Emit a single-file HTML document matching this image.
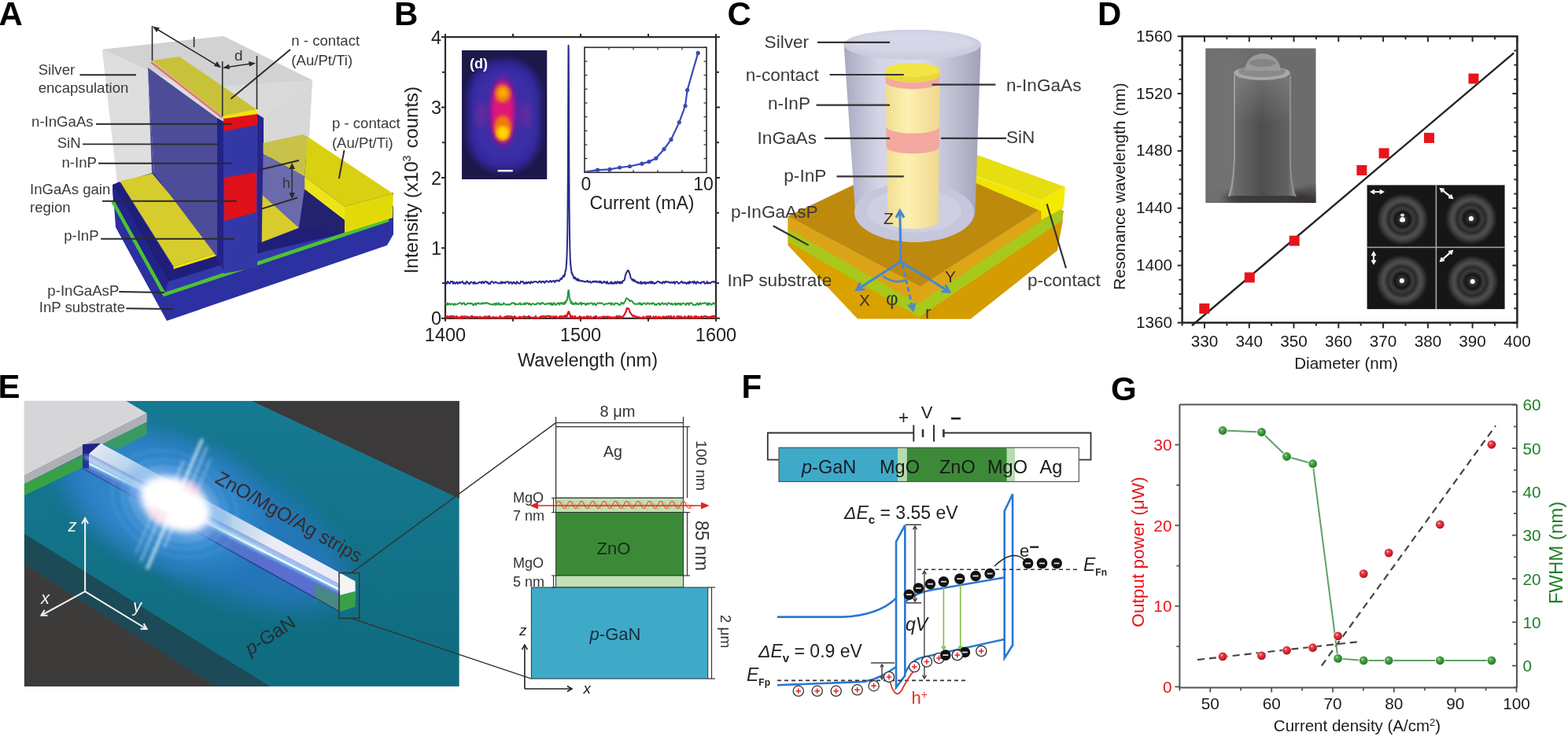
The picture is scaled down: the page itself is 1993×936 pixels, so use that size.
<!DOCTYPE html>
<html><head><meta charset="utf-8"><title>Figure</title>
<style>html,body{margin:0;padding:0;background:#fff;overflow:hidden;} svg{display:block;}</style>
</head><body>
<svg width="1993" height="936" viewBox="0 0 1993 936" font-family='"Liberation Sans", Arial, sans-serif'><defs>
<radialGradient id="gInsetB" cx="50%" cy="50%" r="55%">
  <stop offset="0" stop-color="#4a3aa8"/>
  <stop offset="0.6" stop-color="#33288a"/>
  <stop offset="1" stop-color="#1c1650"/>
</radialGradient>
<radialGradient id="spot" cx="50%" cy="50%" r="50%">
  <stop offset="0" stop-color="#ffe600"/>
  <stop offset="0.35" stop-color="#ffa000"/>
  <stop offset="0.65" stop-color="#e0107a"/>
  <stop offset="1" stop-color="#9a1aa0" stop-opacity="0"/>
</radialGradient>
<linearGradient id="cylG" x1="0" x2="1" y1="0" y2="0">
  <stop offset="0" stop-color="#a8a8c0"/>
  <stop offset="0.25" stop-color="#d4d4e6"/>
  <stop offset="0.55" stop-color="#dcdcec"/>
  <stop offset="0.85" stop-color="#b8b8cc"/>
  <stop offset="1" stop-color="#a0a0b8"/>
</linearGradient>
<linearGradient id="pilG" x1="0" x2="1" y1="0" y2="0">
  <stop offset="0" stop-color="#f0dc90"/>
  <stop offset="0.4" stop-color="#fdf0b0"/>
  <stop offset="1" stop-color="#efd890"/>
</linearGradient>
<linearGradient id="semPil" x1="0" x2="1" y1="0" y2="0">
  <stop offset="0" stop-color="#909090"/>
  <stop offset="0.1" stop-color="#6a6a6a"/>
  <stop offset="0.5" stop-color="#4e4e4e"/>
  <stop offset="0.9" stop-color="#626262"/>
  <stop offset="1" stop-color="#8e8e8e"/>
</linearGradient>
<radialGradient id="ring" cx="50%" cy="50%" r="50%">
  <stop offset="0" stop-color="#ffffff"/>
  <stop offset="0.1" stop-color="#3a3a3a"/>
  <stop offset="0.28" stop-color="#141414"/>
  <stop offset="0.42" stop-color="#404040"/>
  <stop offset="0.55" stop-color="#2a2a2a"/>
  <stop offset="0.72" stop-color="#555555"/>
  <stop offset="0.88" stop-color="#333333"/>
  <stop offset="1" stop-color="#161616"/>
</radialGradient>
<radialGradient id="glowE" cx="50%" cy="50%" r="50%">
  <stop offset="0" stop-color="#ffffff"/>
  <stop offset="0.25" stop-color="#ffffff"/>
  <stop offset="0.5" stop-color="#c8d8ff" stop-opacity="0.8"/>
  <stop offset="1" stop-color="#3a8ad8" stop-opacity="0"/>
</radialGradient>
<radialGradient id="haloE" cx="50%" cy="50%" r="50%">
  <stop offset="0" stop-color="#4aa8f0" stop-opacity="0.9"/>
  <stop offset="1" stop-color="#1a8ab0" stop-opacity="0"/>
</radialGradient>
<radialGradient id="ballG" cx="38%" cy="35%" r="62%">
  <stop offset="0" stop-color="#d8f4d0"/>
  <stop offset="0.22" stop-color="#58b050"/>
  <stop offset="1" stop-color="#247a28"/>
</radialGradient>
<radialGradient id="ballR" cx="38%" cy="35%" r="62%">
  <stop offset="0" stop-color="#ffe0e0"/>
  <stop offset="0.25" stop-color="#f04050"/>
  <stop offset="1" stop-color="#b01820"/>
</radialGradient>
<linearGradient id="tealG" x1="0" x2="0" y1="0" y2="1">
  <stop offset="0" stop-color="#167a92"/>
  <stop offset="1" stop-color="#0f6b7e"/>
</linearGradient>
<filter id="blur2"><feGaussianBlur stdDeviation="2"/></filter>
<filter id="blur4"><feGaussianBlur stdDeviation="4"/></filter>
<filter id="blur8"><feGaussianBlur stdDeviation="8"/></filter>
<filter id="blur15"><feGaussianBlur stdDeviation="15"/></filter>
</defs>
<rect x="0" y="0" width="1993" height="936" fill="#fff"/>
<text x="-1.5" y="31.5" font-size="42" fill="#000" text-anchor="start" font-weight="bold" >A</text>
<polygon points="130.0,63.0 284.0,46.0 397.0,102.0 393.0,172.0 393.0,200.0 300.0,240.0 150.0,240.0" fill="#dadada" />
<polygon points="130.0,63.0 284.0,46.0 397.0,102.0 300.0,108.0 240.0,112.0" fill="#d2d2d2" />
<polygon points="130.0,63.0 240.0,112.0 250.0,240.0 150.0,240.0" fill="#dedede" />
<polygon points="143.0,235.0 147.0,289.0 212.0,408.0 492.0,312.0 500.0,298.0 500.0,262.0 390.0,200.0 330.0,200.0 200.0,218.0" fill="#2c30a0" />
<polygon points="143.0,235.0 144.0,256.0 209.0,374.0 494.0,280.0 500.0,245.0 440.0,262.0 336.0,300.0 220.0,345.0" fill="#3238aa" />
<polygon points="143.0,235.0 152.0,231.0 221.0,342.0 278.0,322.0 333.0,305.0 380.0,290.0 440.0,264.0 440.0,296.0 336.0,320.0 214.0,358.0" fill="#1f1f7a" />
<polygon points="143.0,235.0 214.0,358.0 209.0,374.0 144.0,256.0" fill="#23238a" />
<path d="M143.5,256.5 L209,374.5 L494,279.5" fill="none" stroke="#4cc234" stroke-width="4.6" />
<polygon points="152.3,230.6 193.5,220.7 278.0,321.0 220.5,338.7" fill="#d6cc2c" />
<polygon points="220.5,338.7 278.0,321.0 278.0,324.6 220.5,342.2" fill="#eee40a" />
<polygon points="188.0,86.0 276.0,150.0 276.0,327.0 196.0,221.0" fill="#4c4c98" />
<polygon points="188.0,86.0 196.0,221.0 193.0,221.0" fill="#4c4c98" />
<polygon points="276.0,150.0 285.0,155.0 285.0,345.0 276.0,330.0" fill="#22228a" />
<polygon points="284.0,150.0 327.0,145.0 327.0,340.0 284.0,348.0" fill="#3438a6" />
<polygon points="284.0,149.0 327.0,145.0 327.0,159.0 284.0,167.0" fill="#e01018" />
<polygon points="285.0,226.0 326.0,219.0 326.0,270.0 285.0,281.0" fill="#e01018" />
<polygon points="327.0,145.0 335.0,150.0 335.0,305.0 327.0,310.0" fill="#26268c" />
<polygon points="335.0,150.0 397.0,102.0 393.0,172.0 335.0,182.0" fill="#d8d8d8" />
<polygon points="334.5,181.8 385.0,171.0 391.0,174.0 387.2,224.5 334.5,195.4" fill="#c8c24a" />
<polygon points="334.5,195.4 387.2,224.5 387.2,240.8 380.0,289.8 333.6,248.0" fill="#6a6aac" />
<polygon points="391.0,174.0 499.8,246.3 438.0,262.6 387.2,224.5" fill="#d8d010" />
<polygon points="387.2,224.5 438.0,262.6 438.0,280.0 387.2,240.8" fill="#ece418" />
<polygon points="387.2,240.8 438.0,280.0 438.0,296.0 380.0,289.8" fill="#22226e" />
<polygon points="438.0,262.6 499.8,246.3 499.0,277.0 438.0,296.0" fill="#e2da08" />
<polygon points="333.6,248.0 380.0,289.8 332.7,308.0" fill="#d8cc2c" />
<polygon points="193.0,77.0 228.0,72.0 326.0,139.0 283.0,148.0" fill="#c8c23a" />
<path d="M192,79 L283,150" fill="none" stroke="#e87078" stroke-width="2.5" />
<polygon points="283.0,148.0 326.0,139.0 327.0,145.0 284.0,151.0" fill="#f0e800" />
<line x1="193.5" y1="33.0" x2="193.5" y2="77.0" stroke="#2a2a2a" stroke-width="1.6" />
<line x1="282.7" y1="78.0" x2="282.7" y2="148.0" stroke="#2a2a2a" stroke-width="1.6" />
<line x1="326.5" y1="71.0" x2="326.5" y2="139.0" stroke="#2a2a2a" stroke-width="1.6" />
<line x1="196.0" y1="35.0" x2="279.0" y2="85.0" stroke="#2a2a2a" stroke-width="1.6" />
<polygon points="194.0,33.5 203.0,35.5 199.0,41.0" fill="#2a2a2a" />
<polygon points="281.0,86.0 272.0,84.0 276.0,78.0" fill="#2a2a2a" />
<line x1="285.0" y1="86.0" x2="322.0" y2="80.5" stroke="#2a2a2a" stroke-width="1.6" />
<polygon points="283.0,86.5 291.0,81.5 292.0,88.0" fill="#2a2a2a" />
<polygon points="325.0,80.5 316.0,78.0 317.0,84.5" fill="#2a2a2a" />
<text x="244.5" y="59.5" font-size="19" fill="#333" text-anchor="start" font-weight="normal" >l</text>
<text x="298.0" y="76.5" font-size="19" fill="#333" text-anchor="start" font-weight="normal" >d</text>
<line x1="369.0" y1="63.0" x2="293.4" y2="125.8" stroke="#2a2a2a" stroke-width="1.9" />
<line x1="330.0" y1="216.0" x2="380.0" y2="204.0" stroke="#2a2a2a" stroke-width="1.9" />
<line x1="331.7" y1="265.8" x2="378.2" y2="251.4" stroke="#2a2a2a" stroke-width="1.9" />
<line x1="371.2" y1="212.0" x2="371.2" y2="249.0" stroke="#2a2a2a" stroke-width="1.4" />
<polygon points="371.2,207.0 367.5,215.0 375.0,215.0" fill="#2a2a2a" />
<polygon points="371.2,253.0 367.5,245.0 375.0,245.0" fill="#2a2a2a" />
<text x="359.0" y="239.0" font-size="18" fill="#333" text-anchor="start" font-weight="normal" >h</text>
<text x="48.7" y="95.2" font-size="18.6" fill="#3a3a3a" text-anchor="start" font-weight="normal" >Silver</text>
<text x="48.7" y="117.6" font-size="18.6" fill="#3a3a3a" text-anchor="start" font-weight="normal" >encapsulation</text>
<line x1="101.5" y1="95.2" x2="173.0" y2="95.2" stroke="#2a2a2a" stroke-width="1.9" />
<text x="370.3" y="58.0" font-size="18.6" fill="#3a3a3a" text-anchor="start" font-weight="normal" >n - contact</text>
<text x="370.3" y="83.0" font-size="18.6" fill="#3a3a3a" text-anchor="start" font-weight="normal" >(Au/Pt/Ti)</text>
<text x="421.9" y="163.0" font-size="18.6" fill="#3a3a3a" text-anchor="start" font-weight="normal" >p - contact</text>
<text x="421.9" y="188.0" font-size="18.6" fill="#3a3a3a" text-anchor="start" font-weight="normal" >(Au/Pt/Ti)</text>
<line x1="437.5" y1="191.0" x2="430.9" y2="227.0" stroke="#2a2a2a" stroke-width="1.9" />
<text x="118.6" y="161.4" font-size="18.6" fill="#3a3a3a" text-anchor="end" font-weight="normal" >n-InGaAs</text>
<line x1="122.0" y1="157.8" x2="294.4" y2="157.8" stroke="#2a2a2a" stroke-width="1.9" />
<text x="102.6" y="188.0" font-size="18.6" fill="#3a3a3a" text-anchor="end" font-weight="normal" >SiN</text>
<line x1="105.0" y1="183.4" x2="277.4" y2="183.4" stroke="#2a2a2a" stroke-width="1.9" />
<text x="122.9" y="212.7" font-size="18.6" fill="#3a3a3a" text-anchor="end" font-weight="normal" >n-InP</text>
<line x1="125.0" y1="207.8" x2="295.5" y2="207.8" stroke="#2a2a2a" stroke-width="1.9" />
<text x="38.0" y="247.0" font-size="18.6" fill="#3a3a3a" text-anchor="start" font-weight="normal" >InGaAs gain</text>
<text x="38.0" y="270.0" font-size="18.6" fill="#3a3a3a" text-anchor="start" font-weight="normal" >region</text>
<line x1="130.0" y1="255.8" x2="300.7" y2="255.8" stroke="#2a2a2a" stroke-width="1.9" />
<text x="125.6" y="306.0" font-size="18.6" fill="#3a3a3a" text-anchor="end" font-weight="normal" >p-InP</text>
<line x1="128.2" y1="303.8" x2="298.0" y2="303.8" stroke="#2a2a2a" stroke-width="1.9" />
<text x="151.3" y="376.0" font-size="18.6" fill="#3a3a3a" text-anchor="end" font-weight="normal" >p-InGaAsP</text>
<line x1="151.3" y1="371.0" x2="209.0" y2="372.0" stroke="#2a2a2a" stroke-width="1.9" />
<text x="159.0" y="397.4" font-size="18.6" fill="#3a3a3a" text-anchor="end" font-weight="normal" >InP substrate</text>
<line x1="160.3" y1="392.3" x2="220.5" y2="393.0" stroke="#2a2a2a" stroke-width="1.9" />
<text x="501.0" y="31.5" font-size="42" fill="#000" text-anchor="start" font-weight="bold" >B</text>
<rect x="566" y="47.1" width="344" height="357.7" fill="none" stroke="#2a2a2a" stroke-width="2.2"/>
<line x1="561.0" y1="404.8" x2="566.0" y2="404.8" stroke="#2a2a2a" stroke-width="2" />
<line x1="910.0" y1="404.8" x2="915.0" y2="404.8" stroke="#2a2a2a" stroke-width="2" />
<line x1="562.0" y1="360.1" x2="566.0" y2="360.1" stroke="#2a2a2a" stroke-width="2" />
<line x1="910.0" y1="360.1" x2="914.0" y2="360.1" stroke="#2a2a2a" stroke-width="2" />
<line x1="561.0" y1="315.4" x2="566.0" y2="315.4" stroke="#2a2a2a" stroke-width="2" />
<line x1="910.0" y1="315.4" x2="915.0" y2="315.4" stroke="#2a2a2a" stroke-width="2" />
<line x1="562.0" y1="270.7" x2="566.0" y2="270.7" stroke="#2a2a2a" stroke-width="2" />
<line x1="910.0" y1="270.7" x2="914.0" y2="270.7" stroke="#2a2a2a" stroke-width="2" />
<line x1="561.0" y1="226.0" x2="566.0" y2="226.0" stroke="#2a2a2a" stroke-width="2" />
<line x1="910.0" y1="226.0" x2="915.0" y2="226.0" stroke="#2a2a2a" stroke-width="2" />
<line x1="562.0" y1="181.2" x2="566.0" y2="181.2" stroke="#2a2a2a" stroke-width="2" />
<line x1="910.0" y1="181.2" x2="914.0" y2="181.2" stroke="#2a2a2a" stroke-width="2" />
<line x1="561.0" y1="136.5" x2="566.0" y2="136.5" stroke="#2a2a2a" stroke-width="2" />
<line x1="910.0" y1="136.5" x2="915.0" y2="136.5" stroke="#2a2a2a" stroke-width="2" />
<line x1="562.0" y1="91.8" x2="566.0" y2="91.8" stroke="#2a2a2a" stroke-width="2" />
<line x1="910.0" y1="91.8" x2="914.0" y2="91.8" stroke="#2a2a2a" stroke-width="2" />
<line x1="561.0" y1="47.1" x2="566.0" y2="47.1" stroke="#2a2a2a" stroke-width="2" />
<line x1="910.0" y1="47.1" x2="915.0" y2="47.1" stroke="#2a2a2a" stroke-width="2" />
<line x1="566.0" y1="404.8" x2="566.0" y2="408.8" stroke="#2a2a2a" stroke-width="2" />
<line x1="566.0" y1="43.1" x2="566.0" y2="47.1" stroke="#2a2a2a" stroke-width="2" />
<line x1="652.0" y1="404.8" x2="652.0" y2="408.8" stroke="#2a2a2a" stroke-width="2" />
<line x1="652.0" y1="43.1" x2="652.0" y2="47.1" stroke="#2a2a2a" stroke-width="2" />
<line x1="738.0" y1="404.8" x2="738.0" y2="408.8" stroke="#2a2a2a" stroke-width="2" />
<line x1="738.0" y1="43.1" x2="738.0" y2="47.1" stroke="#2a2a2a" stroke-width="2" />
<line x1="824.0" y1="404.8" x2="824.0" y2="408.8" stroke="#2a2a2a" stroke-width="2" />
<line x1="824.0" y1="43.1" x2="824.0" y2="47.1" stroke="#2a2a2a" stroke-width="2" />
<line x1="910.0" y1="404.8" x2="910.0" y2="408.8" stroke="#2a2a2a" stroke-width="2" />
<line x1="910.0" y1="43.1" x2="910.0" y2="47.1" stroke="#2a2a2a" stroke-width="2" />
<text x="561.0" y="413.3" font-size="23.5" fill="#222" text-anchor="end" font-weight="normal" >0</text>
<text x="561.0" y="323.9" font-size="23.5" fill="#222" text-anchor="end" font-weight="normal" >1</text>
<text x="561.0" y="234.5" font-size="23.5" fill="#222" text-anchor="end" font-weight="normal" >2</text>
<text x="561.0" y="145.0" font-size="23.5" fill="#222" text-anchor="end" font-weight="normal" >3</text>
<text x="561.0" y="55.6" font-size="23.5" fill="#222" text-anchor="end" font-weight="normal" >4</text>
<text x="566.0" y="434.0" font-size="23.5" fill="#222" text-anchor="middle" font-weight="normal" >1400</text>
<text x="738.0" y="434.0" font-size="23.5" fill="#222" text-anchor="middle" font-weight="normal" >1500</text>
<text x="910.0" y="434.0" font-size="23.5" fill="#222" text-anchor="middle" font-weight="normal" >1600</text>
<text x="747.0" y="466.0" font-size="23.5" fill="#222" text-anchor="middle" font-weight="normal" >Wavelength (nm)</text>
<text x="0" y="0" font-size="24" fill="#222" text-anchor="middle" transform="translate(531,229) rotate(-90)">Intensity (x10<tspan font-size="14" dy="-9">3</tspan><tspan dy="9" dx="9">counts)</tspan></text>
<path d="M566.00,402.94 L567.00,402.38 L568.00,403.98 L569.00,402.13 L570.00,403.61 L571.00,403.07 L572.00,402.08 L573.00,403.52 L574.00,402.02 L575.00,403.29 L576.00,402.12 L577.00,402.19 L578.00,403.26 L579.00,404.54 L580.00,402.29 L581.00,402.61 L582.00,403.91 L583.00,404.93 L584.00,403.75 L585.00,403.17 L586.00,405.02 L587.00,402.05 L588.00,404.65 L589.00,402.83 L590.00,402.36 L591.00,402.28 L592.00,402.89 L593.00,404.51 L594.00,402.48 L595.00,403.76 L596.00,403.94 L597.00,403.09 L598.00,403.65 L599.00,402.10 L600.00,402.09 L601.00,402.56 L602.00,404.08 L603.00,403.27 L604.00,402.90 L605.00,403.77 L606.00,403.35 L607.00,402.86 L608.00,404.44 L609.00,404.13 L610.00,402.68 L611.00,403.74 L612.00,403.58 L613.00,404.70 L614.00,404.23 L615.00,402.82 L616.00,405.03 L617.00,402.28 L618.00,403.24 L619.00,404.32 L620.00,402.38 L621.00,403.46 L622.00,402.02 L623.00,404.04 L624.00,404.34 L625.00,403.73 L626.00,404.70 L627.00,402.90 L628.00,404.12 L629.00,403.80 L630.00,403.75 L631.00,403.36 L632.00,404.58 L633.00,404.92 L634.00,403.41 L635.00,404.02 L636.00,402.09 L637.00,404.14 L638.00,403.97 L639.00,405.07 L640.00,404.53 L641.00,402.81 L642.00,403.13 L643.00,404.04 L644.00,401.97 L645.00,403.37 L646.00,402.43 L647.00,402.27 L648.00,402.08 L649.00,404.35 L650.00,402.31 L651.00,402.69 L652.00,403.15 L653.00,404.68 L654.00,402.15 L655.00,403.33 L656.00,403.65 L657.00,404.72 L658.00,404.52 L659.00,404.66 L660.00,402.78 L661.00,403.22 L662.00,403.04 L663.00,404.72 L664.00,404.96 L665.00,402.38 L666.00,402.46 L667.00,402.63 L668.00,402.64 L669.00,403.44 L670.00,403.78 L671.00,402.73 L672.00,401.90 L673.00,403.23 L674.00,403.07 L675.00,403.70 L676.00,404.94 L677.00,404.10 L678.00,403.54 L679.00,403.86 L680.00,404.05 L681.00,402.06 L682.00,404.76 L683.00,404.38 L684.00,404.68 L685.00,404.44 L686.00,403.14 L687.00,403.16 L688.00,402.21 L689.00,403.91 L690.00,402.08 L691.00,402.09 L692.00,402.54 L693.00,402.39 L694.00,402.96 L695.00,402.04 L696.00,401.87 L697.00,402.35 L698.00,402.19 L699.00,403.02 L700.00,401.94 L701.00,404.65 L702.00,403.81 L703.00,402.32 L704.00,402.64 L705.00,402.94 L706.00,402.99 L707.00,402.21 L708.00,404.52 L709.00,404.97 L710.00,403.27 L711.00,403.31 L712.00,402.01 L713.00,402.04 L714.00,402.78 L715.00,402.48 L716.00,404.22 L717.00,402.00 L717.25,401.53 L717.50,404.46 L717.75,403.07 L718.00,401.80 L718.25,403.02 L718.50,401.31 L718.75,402.85 L719.00,404.21 L719.25,403.74 L719.50,403.09 L719.75,401.55 L720.00,401.71 L720.25,400.85 L720.50,402.49 L720.75,401.36 L721.00,401.67 L721.25,399.61 L721.50,398.46 L721.75,399.33 L722.00,398.73 L722.25,397.20 L722.50,396.39 L722.75,396.50 L723.00,397.04 L723.25,396.54 L723.50,398.61 L723.75,399.06 L724.00,398.78 L724.25,399.37 L724.50,400.63 L724.75,400.92 L725.00,402.58 L725.25,403.64 L725.50,402.18 L725.75,403.88 L726.00,404.16 L726.25,404.15 L726.50,402.34 L726.75,401.94 L727.00,402.02 L727.25,401.97 L727.50,402.04 L727.75,403.42 L728.00,404.34 L728.25,404.18 L728.50,403.05 L728.75,403.63 L729.75,404.17 L730.75,401.93 L731.75,403.81 L732.75,404.64 L733.75,404.25 L734.75,404.17 L735.75,403.32 L736.75,402.37 L737.75,404.33 L738.75,402.88 L739.75,404.39 L740.75,404.94 L741.75,403.11 L742.75,403.13 L743.75,404.88 L744.75,404.17 L745.75,402.40 L746.75,402.27 L747.75,402.35 L748.75,404.76 L749.75,404.45 L750.75,402.34 L751.75,404.52 L752.75,405.01 L753.75,403.98 L754.75,403.00 L755.75,403.63 L756.75,402.30 L757.75,401.93 L758.75,404.99 L759.75,403.96 L760.75,403.57 L761.75,404.87 L762.75,403.27 L763.75,404.67 L764.75,404.53 L765.75,402.56 L766.75,402.69 L767.75,402.83 L768.75,402.66 L769.75,403.77 L770.75,402.72 L771.75,403.23 L772.75,402.31 L773.75,404.80 L774.75,403.02 L775.75,403.36 L776.75,403.76 L777.75,404.79 L778.75,403.24 L779.75,404.83 L780.75,403.50 L781.75,403.59 L782.75,403.57 L783.75,401.95 L784.75,403.30 L785.75,402.48 L786.75,401.90 L787.75,404.43 L788.75,402.39 L789.75,403.27 L790.75,403.87 L791.75,402.85 L792.75,401.14 L793.75,400.10 L794.75,397.93 L795.75,396.14 L796.75,391.96 L797.75,392.60 L798.75,392.22 L799.75,393.94 L800.75,397.47 L801.75,398.32 L802.75,399.73 L803.75,401.22 L804.75,402.34 L805.75,401.37 L806.75,402.38 L807.75,402.45 L808.75,402.80 L809.75,403.64 L810.75,403.05 L811.75,403.43 L812.75,403.33 L813.75,404.86 L814.75,404.11 L815.75,404.69 L816.75,404.91 L817.75,402.73 L818.75,403.69 L819.75,404.92 L820.75,404.59 L821.75,402.34 L822.75,402.29 L823.75,403.31 L824.75,402.13 L825.75,402.67 L826.75,402.13 L827.75,404.04 L828.75,404.41 L829.75,404.77 L830.75,402.39 L831.75,404.19 L832.75,404.01 L833.75,402.36 L834.75,404.72 L835.75,404.99 L836.75,402.60 L837.75,404.95 L838.75,403.17 L839.75,403.46 L840.75,405.07 L841.75,404.56 L842.75,402.41 L843.75,403.28 L844.75,403.55 L845.75,402.98 L846.75,402.52 L847.75,402.92 L848.75,404.21 L849.75,401.96 L850.75,403.67 L851.75,403.31 L852.75,401.96 L853.75,402.96 L854.75,403.90 L855.75,403.54 L856.75,402.10 L857.75,405.05 L858.75,404.42 L859.75,405.01 L860.75,402.23 L861.75,402.75 L862.75,402.03 L863.75,404.39 L864.75,402.76 L865.75,402.31 L866.75,403.25 L867.75,404.82 L868.75,404.52 L869.75,402.73 L870.75,402.38 L871.75,404.84 L872.75,403.72 L873.75,404.14 L874.75,402.19 L875.75,402.08 L876.75,404.10 L877.75,403.26 L878.75,402.13 L879.75,404.90 L880.75,403.93 L881.75,404.46 L882.75,402.17 L883.75,404.64 L884.75,402.11 L885.75,404.66 L886.75,403.35 L887.75,402.98 L888.75,403.67 L889.75,404.86 L890.75,402.76 L891.75,402.31 L892.75,403.59 L893.75,402.66 L894.75,402.25 L895.75,402.42 L896.75,402.06 L897.75,402.54 L898.75,402.90 L899.75,402.88 L900.75,404.33 L901.75,402.83 L902.75,403.50 L903.75,402.47 L904.75,403.01 L905.75,401.96 L906.75,402.70 L907.75,401.95 L908.75,404.25 L909.75,403.66" fill="none" stroke="#e0141c" stroke-width="2.2" stroke-linejoin="round"/>
<path d="M566.00,385.57 L567.00,386.42 L568.00,387.80 L569.00,385.32 L570.00,387.45 L571.00,386.29 L572.00,386.48 L573.00,387.50 L574.00,386.18 L575.00,386.52 L576.00,387.06 L577.00,387.94 L578.00,386.03 L579.00,387.49 L580.00,387.12 L581.00,386.91 L582.00,386.21 L583.00,386.04 L584.00,385.16 L585.00,385.39 L586.00,385.21 L587.00,387.22 L588.00,385.76 L589.00,385.49 L590.00,385.25 L591.00,387.52 L592.00,387.61 L593.00,387.01 L594.00,385.84 L595.00,385.72 L596.00,385.88 L597.00,386.37 L598.00,385.47 L599.00,386.33 L600.00,385.79 L601.00,387.88 L602.00,387.91 L603.00,386.64 L604.00,385.73 L605.00,387.89 L606.00,385.92 L607.00,386.07 L608.00,385.00 L609.00,386.14 L610.00,386.42 L611.00,386.50 L612.00,385.60 L613.00,386.51 L614.00,385.01 L615.00,385.79 L616.00,385.26 L617.00,386.19 L618.00,385.12 L619.00,385.06 L620.00,385.91 L621.00,385.69 L622.00,386.75 L623.00,386.58 L624.00,387.25 L625.00,386.97 L626.00,387.14 L627.00,387.63 L628.00,386.16 L629.00,385.97 L630.00,387.95 L631.00,385.44 L632.00,387.17 L633.00,386.92 L634.00,385.12 L635.00,387.50 L636.00,387.67 L637.00,386.87 L638.00,387.19 L639.00,387.43 L640.00,385.41 L641.00,386.56 L642.00,386.50 L643.00,387.50 L644.00,387.40 L645.00,387.47 L646.00,386.74 L647.00,387.67 L648.00,387.04 L649.00,387.07 L650.00,385.68 L651.00,385.08 L652.00,385.39 L653.00,386.07 L654.00,385.30 L655.00,387.49 L656.00,386.66 L657.00,386.87 L658.00,386.87 L659.00,387.03 L660.00,386.45 L661.00,384.99 L662.00,387.38 L663.00,387.23 L664.00,386.49 L665.00,386.59 L666.00,386.96 L667.00,385.18 L668.00,387.19 L669.00,385.74 L670.00,385.20 L671.00,385.78 L672.00,387.17 L673.00,385.59 L674.00,387.20 L675.00,387.90 L676.00,386.46 L677.00,386.12 L678.00,386.41 L679.00,387.02 L680.00,387.27 L681.00,386.82 L682.00,386.89 L683.00,385.20 L684.00,385.41 L685.00,385.72 L686.00,387.19 L687.00,385.87 L688.00,386.66 L689.00,384.99 L690.00,385.13 L691.00,385.75 L692.00,386.96 L693.00,387.01 L694.00,386.96 L695.00,385.80 L696.00,386.47 L697.00,386.31 L698.00,386.31 L699.00,385.26 L700.00,387.58 L701.00,385.49 L702.00,387.81 L703.00,387.68 L704.00,384.91 L705.00,386.22 L706.00,387.29 L707.00,387.71 L708.00,386.13 L709.00,385.56 L710.00,385.35 L711.00,387.52 L712.00,385.27 L713.00,386.32 L714.00,384.93 L715.00,385.97 L716.00,387.12 L717.00,384.46 L717.25,386.45 L717.50,385.44 L717.75,386.49 L718.00,385.84 L718.25,384.31 L718.50,386.18 L718.75,384.79 L719.00,383.22 L719.25,382.94 L719.50,384.13 L719.75,383.69 L720.00,382.84 L720.25,381.85 L720.50,381.81 L720.75,380.90 L721.00,381.39 L721.25,377.47 L721.50,377.90 L721.75,375.89 L722.00,371.13 L722.25,371.07 L722.50,368.93 L722.75,369.67 L723.00,369.61 L723.25,372.42 L723.50,375.04 L723.75,379.04 L724.00,379.54 L724.25,380.19 L724.50,381.42 L724.75,381.75 L725.00,381.68 L725.25,382.32 L725.50,384.91 L725.75,383.57 L726.00,385.78 L726.25,383.93 L726.50,384.16 L726.75,385.04 L727.00,384.21 L727.25,384.87 L727.50,386.71 L727.75,386.58 L728.00,386.44 L728.25,385.96 L728.50,386.87 L728.75,387.00 L729.75,385.99 L730.75,386.62 L731.75,384.70 L732.75,386.81 L733.75,386.02 L734.75,386.97 L735.75,386.68 L736.75,385.63 L737.75,384.94 L738.75,387.60 L739.75,385.22 L740.75,386.27 L741.75,385.89 L742.75,385.77 L743.75,387.10 L744.75,387.82 L745.75,385.68 L746.75,386.88 L747.75,385.82 L748.75,386.59 L749.75,386.11 L750.75,385.43 L751.75,385.42 L752.75,385.56 L753.75,387.66 L754.75,386.44 L755.75,385.61 L756.75,387.67 L757.75,387.94 L758.75,386.31 L759.75,385.38 L760.75,385.54 L761.75,385.24 L762.75,385.99 L763.75,385.24 L764.75,385.69 L765.75,385.75 L766.75,386.68 L767.75,387.63 L768.75,387.22 L769.75,386.21 L770.75,386.22 L771.75,386.55 L772.75,386.11 L773.75,385.99 L774.75,385.17 L775.75,385.81 L776.75,387.88 L777.75,385.36 L778.75,386.49 L779.75,386.87 L780.75,387.57 L781.75,385.63 L782.75,385.80 L783.75,385.73 L784.75,386.18 L785.75,386.32 L786.75,387.84 L787.75,387.52 L788.75,387.57 L789.75,384.96 L790.75,384.85 L791.75,386.56 L792.75,386.47 L793.75,384.11 L794.75,382.92 L795.75,379.48 L796.75,379.31 L797.75,380.38 L798.75,380.48 L799.75,381.66 L800.75,383.31 L801.75,382.27 L802.75,382.68 L803.75,383.38 L804.75,384.91 L805.75,385.74 L806.75,386.83 L807.75,386.45 L808.75,386.45 L809.75,386.97 L810.75,386.17 L811.75,386.53 L812.75,385.05 L813.75,387.31 L814.75,385.67 L815.75,387.75 L816.75,386.93 L817.75,385.90 L818.75,385.38 L819.75,385.75 L820.75,386.90 L821.75,387.09 L822.75,385.33 L823.75,385.21 L824.75,386.57 L825.75,386.74 L826.75,386.16 L827.75,385.67 L828.75,386.80 L829.75,385.03 L830.75,385.90 L831.75,386.38 L832.75,387.87 L833.75,386.93 L834.75,387.65 L835.75,386.42 L836.75,385.70 L837.75,385.74 L838.75,387.88 L839.75,387.11 L840.75,385.92 L841.75,385.06 L842.75,386.49 L843.75,387.02 L844.75,386.26 L845.75,385.77 L846.75,387.00 L847.75,387.77 L848.75,385.68 L849.75,385.10 L850.75,386.01 L851.75,386.26 L852.75,387.04 L853.75,385.59 L854.75,387.39 L855.75,387.21 L856.75,386.51 L857.75,385.61 L858.75,387.91 L859.75,385.93 L860.75,387.46 L861.75,385.69 L862.75,385.66 L863.75,387.28 L864.75,385.88 L865.75,387.85 L866.75,386.48 L867.75,385.56 L868.75,385.67 L869.75,386.25 L870.75,386.99 L871.75,387.84 L872.75,385.44 L873.75,386.18 L874.75,385.64 L875.75,387.92 L876.75,385.42 L877.75,385.15 L878.75,385.18 L879.75,386.18 L880.75,387.69 L881.75,387.65 L882.75,387.20 L883.75,387.99 L884.75,387.79 L885.75,385.99 L886.75,385.55 L887.75,387.81 L888.75,387.24 L889.75,385.09 L890.75,386.99 L891.75,386.13 L892.75,386.12 L893.75,385.99 L894.75,385.51 L895.75,385.01 L896.75,385.84 L897.75,386.05 L898.75,387.86 L899.75,385.37 L900.75,387.89 L901.75,385.62 L902.75,386.07 L903.75,387.46 L904.75,387.46 L905.75,386.30 L906.75,385.15 L907.75,386.42 L908.75,386.12 L909.75,387.76" fill="none" stroke="#2a9a40" stroke-width="2.0" stroke-linejoin="round"/>
<path d="M566.00,358.49 L567.00,359.04 L568.00,360.74 L569.00,357.97 L570.00,359.18 L571.00,360.47 L572.00,360.32 L573.00,358.00 L574.00,357.98 L575.00,358.07 L576.00,360.81 L577.00,358.69 L578.00,360.26 L579.00,360.74 L580.00,358.95 L581.00,358.73 L582.00,360.93 L583.00,359.84 L584.00,358.70 L585.00,360.15 L586.00,358.87 L587.00,358.74 L588.00,357.87 L589.00,360.28 L590.00,360.79 L591.00,359.89 L592.00,360.88 L593.00,357.93 L594.00,358.60 L595.00,359.38 L596.00,360.92 L597.00,360.91 L598.00,359.09 L599.00,358.66 L600.00,359.23 L601.00,359.43 L602.00,360.82 L603.00,358.43 L604.00,360.42 L605.00,360.21 L606.00,360.48 L607.00,360.32 L608.00,359.79 L609.00,358.89 L610.00,358.86 L611.00,359.00 L612.00,360.34 L613.00,358.09 L614.00,358.47 L615.00,360.25 L616.00,358.63 L617.00,358.04 L618.00,357.94 L619.00,359.60 L620.00,358.87 L621.00,360.97 L622.00,360.65 L623.00,360.99 L624.00,358.67 L625.00,358.09 L626.00,358.13 L627.00,359.41 L628.00,360.09 L629.00,359.25 L630.00,358.56 L631.00,359.15 L632.00,359.80 L633.00,359.97 L634.00,360.20 L635.00,360.51 L636.00,359.93 L637.00,358.19 L638.00,360.49 L639.00,358.74 L640.00,359.61 L641.00,358.98 L642.00,360.15 L643.00,358.42 L644.00,358.57 L645.00,358.56 L646.00,358.27 L647.00,360.60 L648.00,359.62 L649.00,358.81 L650.00,359.03 L651.00,360.93 L652.00,359.38 L653.00,358.49 L654.00,360.33 L655.00,359.83 L656.00,360.91 L657.00,358.06 L658.00,359.25 L659.00,360.34 L660.00,360.40 L661.00,360.63 L662.00,357.83 L663.00,358.64 L664.00,358.07 L665.00,358.29 L666.00,360.79 L667.00,359.53 L668.00,360.63 L669.00,358.84 L670.00,360.41 L671.00,359.07 L672.00,358.45 L673.00,360.10 L674.00,360.62 L675.00,357.92 L676.00,359.48 L677.00,359.54 L678.00,358.24 L679.00,358.71 L680.00,357.96 L681.00,358.14 L682.00,358.29 L683.00,359.37 L684.00,359.51 L685.00,358.06 L686.00,357.42 L687.00,358.40 L688.00,359.49 L689.00,357.88 L690.00,358.25 L691.00,357.86 L692.00,359.72 L693.00,358.88 L694.00,357.28 L695.00,357.35 L696.00,358.23 L697.00,358.65 L698.00,358.86 L699.00,357.03 L700.00,357.17 L701.00,358.77 L702.00,357.74 L703.00,357.21 L704.00,357.14 L705.00,359.04 L706.00,356.80 L707.00,357.40 L708.00,356.48 L709.00,356.38 L710.00,357.48 L711.00,357.52 L712.00,355.03 L713.00,353.94 L714.00,354.95 L715.00,352.42 L716.00,350.67 L717.00,351.99 L717.25,349.97 L717.50,350.69 L717.75,348.75 L718.00,349.58 L718.25,347.42 L718.50,345.54 L718.75,343.97 L719.00,344.40 L719.25,343.12 L719.50,342.08 L719.75,337.09 L720.00,335.79 L720.25,331.10 L720.50,326.36 L720.75,318.16 L721.00,308.67 L721.25,294.95 L721.50,274.38 L721.75,237.87 L722.00,186.97 L722.25,117.13 L722.50,57.74 L722.75,63.38 L723.00,129.90 L723.25,200.54 L723.50,248.68 L723.75,278.12 L724.00,296.83 L724.25,313.01 L724.50,320.54 L724.75,328.80 L725.00,332.76 L725.25,337.10 L725.50,337.83 L725.75,342.10 L726.00,342.12 L726.25,344.20 L726.50,346.87 L726.75,347.87 L727.00,346.70 L727.25,347.60 L727.50,348.86 L727.75,349.84 L728.00,349.95 L728.25,349.59 L728.50,350.42 L728.75,352.35 L729.75,354.18 L730.75,352.40 L731.75,354.82 L732.75,356.05 L733.75,354.25 L734.75,357.23 L735.75,355.29 L736.75,357.13 L737.75,357.24 L738.75,357.71 L739.75,356.89 L740.75,357.43 L741.75,358.10 L742.75,357.74 L743.75,358.60 L744.75,358.03 L745.75,358.10 L746.75,356.86 L747.75,358.84 L748.75,358.50 L749.75,357.75 L750.75,359.50 L751.75,359.60 L752.75,358.62 L753.75,357.77 L754.75,358.75 L755.75,357.62 L756.75,357.72 L757.75,358.72 L758.75,357.66 L759.75,358.81 L760.75,359.05 L761.75,357.57 L762.75,359.50 L763.75,357.75 L764.75,359.85 L765.75,360.01 L766.75,359.17 L767.75,357.72 L768.75,359.18 L769.75,358.79 L770.75,360.63 L771.75,358.04 L772.75,360.36 L773.75,360.81 L774.75,359.98 L775.75,360.25 L776.75,358.27 L777.75,360.80 L778.75,359.25 L779.75,360.74 L780.75,360.62 L781.75,358.22 L782.75,360.22 L783.75,360.68 L784.75,357.92 L785.75,358.84 L786.75,360.13 L787.75,358.21 L788.75,360.53 L789.75,358.44 L790.75,359.89 L791.75,357.10 L792.75,356.96 L793.75,356.10 L794.75,350.77 L795.75,347.58 L796.75,345.68 L797.75,344.01 L798.75,343.92 L799.75,346.56 L800.75,349.09 L801.75,353.84 L802.75,354.67 L803.75,356.51 L804.75,355.04 L805.75,357.72 L806.75,356.20 L807.75,358.08 L808.75,358.86 L809.75,358.32 L810.75,360.21 L811.75,359.36 L812.75,359.54 L813.75,360.57 L814.75,358.12 L815.75,360.98 L816.75,359.83 L817.75,359.08 L818.75,360.37 L819.75,358.67 L820.75,360.99 L821.75,359.67 L822.75,358.98 L823.75,360.28 L824.75,359.24 L825.75,358.40 L826.75,360.21 L827.75,357.99 L828.75,360.46 L829.75,358.65 L830.75,359.88 L831.75,360.99 L832.75,359.71 L833.75,359.96 L834.75,358.84 L835.75,357.85 L836.75,357.95 L837.75,358.32 L838.75,359.82 L839.75,359.23 L840.75,359.49 L841.75,360.71 L842.75,358.27 L843.75,358.58 L844.75,359.94 L845.75,357.92 L846.75,357.86 L847.75,358.99 L848.75,358.19 L849.75,359.00 L850.75,358.57 L851.75,359.72 L852.75,359.74 L853.75,358.51 L854.75,359.85 L855.75,359.38 L856.75,358.29 L857.75,360.86 L858.75,358.64 L859.75,358.34 L860.75,358.17 L861.75,359.90 L862.75,360.65 L863.75,360.37 L864.75,359.15 L865.75,358.71 L866.75,357.90 L867.75,359.93 L868.75,359.66 L869.75,358.99 L870.75,359.93 L871.75,359.29 L872.75,360.87 L873.75,360.21 L874.75,358.66 L875.75,360.76 L876.75,358.01 L877.75,359.57 L878.75,359.17 L879.75,358.63 L880.75,358.06 L881.75,360.36 L882.75,357.91 L883.75,359.63 L884.75,360.88 L885.75,358.33 L886.75,358.51 L887.75,359.82 L888.75,359.50 L889.75,359.93 L890.75,360.48 L891.75,358.43 L892.75,358.86 L893.75,358.84 L894.75,358.03 L895.75,360.72 L896.75,360.38 L897.75,360.17 L898.75,357.90 L899.75,360.58 L900.75,360.26 L901.75,359.37 L902.75,360.25 L903.75,359.33 L904.75,358.60 L905.75,358.21 L906.75,358.62 L907.75,358.00 L908.75,358.95 L909.75,360.28" fill="none" stroke="#2a2a8c" stroke-width="2.0" stroke-linejoin="round"/>
<clipPath id="clipBi"><rect x="587" y="64" width="108.5" height="164"/></clipPath><g clip-path="url(#clipBi)">
<rect x="587" y="64" width="108.5" height="164" fill="#1c1848"/>
<rect x="594" y="76" width="94" height="142" rx="42" ry="48" fill="#33279a" filter="url(#blur4)"/>
<rect x="602" y="88" width="78" height="118" rx="36" ry="40" fill="#3b2da6" filter="url(#blur4)"/>
<ellipse cx="612" cy="146" rx="8" ry="16" fill="#7a2a9a" opacity="0.6" filter="url(#blur4)"/>
<ellipse cx="668" cy="146" rx="8" ry="16" fill="#7a2a9a" opacity="0.6" filter="url(#blur4)"/>
<ellipse cx="639" cy="142" rx="16" ry="42" fill="#c8108c" filter="url(#blur4)"/>
<ellipse cx="639" cy="142" rx="12" ry="36" fill="#e0187a" filter="url(#blur2)"/>
<ellipse cx="639" cy="119" rx="10" ry="11" fill="#f08a10" filter="url(#blur2)"/>
<ellipse cx="639" cy="163" rx="11" ry="16" fill="#f07a10" filter="url(#blur2)"/>
<ellipse cx="639" cy="169" rx="8" ry="9" fill="#ffd400" filter="url(#blur2)"/>
<ellipse cx="639" cy="118" rx="5" ry="5" fill="#ffb000" filter="url(#blur2)"/>
</g>
<text x="597.0" y="87.0" font-size="18" fill="#fff" text-anchor="start" font-weight="bold" >(d)</text>
<line x1="632.6" y1="217.2" x2="651.8" y2="217.2" stroke="#eee" stroke-width="2.5" />
<rect x="743" y="60.3" width="155" height="159" fill="#fff" stroke="#2a2a2a" stroke-width="1.6"/>
<line x1="743.0" y1="201.6" x2="746.5" y2="201.6" stroke="#2a2a2a" stroke-width="1.2" />
<line x1="894.5" y1="201.6" x2="898.0" y2="201.6" stroke="#2a2a2a" stroke-width="1.2" />
<line x1="743.0" y1="184.0" x2="746.5" y2="184.0" stroke="#2a2a2a" stroke-width="1.2" />
<line x1="894.5" y1="184.0" x2="898.0" y2="184.0" stroke="#2a2a2a" stroke-width="1.2" />
<line x1="743.0" y1="166.3" x2="746.5" y2="166.3" stroke="#2a2a2a" stroke-width="1.2" />
<line x1="894.5" y1="166.3" x2="898.0" y2="166.3" stroke="#2a2a2a" stroke-width="1.2" />
<line x1="743.0" y1="148.6" x2="746.5" y2="148.6" stroke="#2a2a2a" stroke-width="1.2" />
<line x1="894.5" y1="148.6" x2="898.0" y2="148.6" stroke="#2a2a2a" stroke-width="1.2" />
<line x1="743.0" y1="131.0" x2="746.5" y2="131.0" stroke="#2a2a2a" stroke-width="1.2" />
<line x1="894.5" y1="131.0" x2="898.0" y2="131.0" stroke="#2a2a2a" stroke-width="1.2" />
<line x1="743.0" y1="113.3" x2="746.5" y2="113.3" stroke="#2a2a2a" stroke-width="1.2" />
<line x1="894.5" y1="113.3" x2="898.0" y2="113.3" stroke="#2a2a2a" stroke-width="1.2" />
<line x1="743.0" y1="95.6" x2="746.5" y2="95.6" stroke="#2a2a2a" stroke-width="1.2" />
<line x1="894.5" y1="95.6" x2="898.0" y2="95.6" stroke="#2a2a2a" stroke-width="1.2" />
<line x1="743.0" y1="78.0" x2="746.5" y2="78.0" stroke="#2a2a2a" stroke-width="1.2" />
<line x1="894.5" y1="78.0" x2="898.0" y2="78.0" stroke="#2a2a2a" stroke-width="1.2" />
<line x1="743.0" y1="60.3" x2="746.5" y2="60.3" stroke="#2a2a2a" stroke-width="1.2" />
<line x1="894.5" y1="60.3" x2="898.0" y2="60.3" stroke="#2a2a2a" stroke-width="1.2" />
<line x1="774.0" y1="60.3" x2="774.0" y2="63.5" stroke="#2a2a2a" stroke-width="1.2" />
<line x1="774.0" y1="216.0" x2="774.0" y2="219.3" stroke="#2a2a2a" stroke-width="1.2" />
<line x1="805.0" y1="60.3" x2="805.0" y2="63.5" stroke="#2a2a2a" stroke-width="1.2" />
<line x1="805.0" y1="216.0" x2="805.0" y2="219.3" stroke="#2a2a2a" stroke-width="1.2" />
<line x1="836.0" y1="60.3" x2="836.0" y2="63.5" stroke="#2a2a2a" stroke-width="1.2" />
<line x1="836.0" y1="216.0" x2="836.0" y2="219.3" stroke="#2a2a2a" stroke-width="1.2" />
<line x1="867.0" y1="60.3" x2="867.0" y2="63.5" stroke="#2a2a2a" stroke-width="1.2" />
<line x1="867.0" y1="216.0" x2="867.0" y2="219.3" stroke="#2a2a2a" stroke-width="1.2" />
<path d="M744,218.7 L759.5,216.2 L775,215.4 L787.7,213 L800.5,211.5 L816,208.2 L824.9,205.6 L833.8,201.3 L844,189.7 L853,177.4 L863.3,155.6 L871,134.6 L873.6,114.6 L887.2,67.4" fill="none" stroke="#3a4ab8" stroke-width="2.2" />
<circle cx="759.5" cy="216.2" r="2.6" fill="#3a4ab8"/>
<circle cx="775" cy="215.4" r="2.6" fill="#3a4ab8"/>
<circle cx="787.7" cy="213" r="2.6" fill="#3a4ab8"/>
<circle cx="800.5" cy="211.5" r="2.6" fill="#3a4ab8"/>
<circle cx="816" cy="208.2" r="2.6" fill="#3a4ab8"/>
<circle cx="824.9" cy="205.6" r="2.6" fill="#3a4ab8"/>
<circle cx="833.8" cy="201.3" r="2.6" fill="#3a4ab8"/>
<circle cx="844" cy="189.7" r="2.6" fill="#3a4ab8"/>
<circle cx="853" cy="177.4" r="2.6" fill="#3a4ab8"/>
<circle cx="863.3" cy="155.6" r="2.6" fill="#3a4ab8"/>
<circle cx="871" cy="134.6" r="2.6" fill="#3a4ab8"/>
<circle cx="873.6" cy="114.6" r="2.6" fill="#3a4ab8"/>
<circle cx="887.2" cy="67.4" r="2.6" fill="#3a4ab8"/>
<text x="745.0" y="242.0" font-size="23" fill="#222" text-anchor="middle" font-weight="normal" >0</text>
<text x="894.0" y="242.0" font-size="23" fill="#222" text-anchor="middle" font-weight="normal" >10</text>
<text x="816.0" y="266.0" font-size="23" fill="#222" text-anchor="middle" font-weight="normal" >Current (mA)</text>
<text x="924.5" y="31.5" font-size="42" fill="#000" text-anchor="start" font-weight="bold" >C</text>
<polygon points="1001.5,274.9 1001.5,312.0 1090.0,405.6 1233.6,405.6 1343.8,318.5 1352.0,268.0 1320.8,267.2 1169.5,364.6" fill="#d9a200" />
<polygon points="1001.5,274.9 1169.5,364.6 1167.0,387.7 1001.5,291.0" fill="#dba418" />
<polygon points="1169.5,364.6 1320.8,267.2 1323.0,280.0 1349.0,264.6 1350.0,272.0 1167.0,387.7" fill="#dca616" />
<polygon points="1001.5,291.0 1167.0,386.5 1349.0,263.5 1351.0,280.0 1168.0,403.5 1001.5,307.0" fill="#a8c81c" />
<polygon points="1168.0,403.5 1351.0,280.0 1343.8,318.5 1233.6,405.6 1170.0,405.6" fill="#d49c00" />
<polygon points="1001.5,274.9 1165.0,197.0 1320.8,267.2 1169.5,364.6" fill="#be8a0e" />
<polygon points="1241.3,196.7 1354.0,237.7 1323.3,254.4 1236.0,222.0" fill="#e6de10" />
<polygon points="1234.0,221.5 1323.3,254.4 1323.3,268.5 1234.0,230.0" fill="#f0e600" />
<polygon points="1323.3,254.4 1354.0,237.7 1351.5,264.6 1323.3,280.0" fill="#f4ea00" />
<path d="M1072.6,57 L1087,269 A75,38 0 0 0 1239.5,269 L1246.7,57 A87,19 0 0 0 1072.6,57 Z" fill="url(#cylG)" stroke="none" stroke-width="1" />
<ellipse cx="1162" cy="270" rx="76" ry="38" fill="#c6c6dc"/>
<ellipse cx="1162" cy="268" rx="60" ry="28" fill="#cfcfe2"/>
<ellipse cx="1159.6" cy="57" rx="87" ry="19" fill="#cdcde0"/>
<ellipse cx="1159.6" cy="54" rx="80" ry="14" fill="#d6d6e8" filter="url(#blur2)"/>
<path d="M1125.5,92 L1128.5,282 A32,9 0 0 0 1192.6,282 L1194.6,92 Z" fill="url(#pilG)" stroke="none" stroke-width="1" />
<path d="M1125.6,96 A34.5,9 0 0 0 1194.5,96 L1194.4,105 A34.5,9 0 0 1 1125.7,105 Z" fill="#f3a8a0" stroke="none" stroke-width="1" />
<path d="M1126.3,162 A34.2,9 0 0 0 1194,162 L1193.8,188 A34.2,9 0 0 1 1126.6,188 Z" fill="#f3a8a0" stroke="none" stroke-width="1" />
<path d="M1125.5,90 L1125.5,96 A34.6,9 0 0 0 1194.6,96 L1194.6,90 Z" fill="#e8d838" stroke="none" stroke-width="1" />
<ellipse cx="1160" cy="89" rx="34.6" ry="9" fill="#f2e445"/>
<line x1="1145.0" y1="332.6" x2="1143.8" y2="268.0" stroke="#4a88d0" stroke-width="3.2"/>
<polyline points="1149.0,276.6 1143.8,268.0 1139.0,276.8" fill="none" stroke="#4a88d0" stroke-width="3.2"/>
<line x1="1145.0" y1="332.6" x2="1089.0" y2="368.5" stroke="#4a88d0" stroke-width="3.2"/>
<polyline points="1093.6,359.6 1089.0,368.5 1099.0,368.0" fill="none" stroke="#4a88d0" stroke-width="3.2"/>
<line x1="1145.0" y1="332.6" x2="1206.5" y2="371.0" stroke="#4a88d0" stroke-width="3.2"/>
<polyline points="1196.5,370.7 1206.5,371.0 1201.8,362.2" fill="none" stroke="#4a88d0" stroke-width="3.2"/>
<line x1="1147.0" y1="336.0" x2="1160.5" y2="394.0" stroke="#4a88d0" stroke-width="3" stroke-dasharray="6,4"/>
<polyline points="1154.4,387.4 1160.5,394.0 1163.1,385.4" fill="none" stroke="#4a88d0" stroke-width="3"/>
<path d="M1122,351 Q1137,362 1151.5,356" fill="none" stroke="#4a88d0" stroke-width="2.6" />
<text x="1123.0" y="285.0" font-size="21" fill="#333" text-anchor="start" font-weight="normal" >Z</text>
<text x="1092.0" y="389.0" font-size="21" fill="#333" text-anchor="start" font-weight="normal" >X</text>
<text x="1201.0" y="359.0" font-size="21" fill="#333" text-anchor="start" font-weight="normal" >Y</text>
<text x="1126.0" y="388.0" font-size="24" fill="#333" text-anchor="start" font-weight="normal" >φ</text>
<text x="1176.0" y="405.0" font-size="22" fill="#333" text-anchor="start" font-weight="normal" >r</text>
<text x="971.6" y="61.0" font-size="22.6" fill="#3a3a3a" text-anchor="start" font-weight="normal" >Silver</text>
<line x1="1039.0" y1="53.8" x2="1131.0" y2="53.8" stroke="#333" stroke-width="2.2" />
<text x="947.8" y="103.0" font-size="22.6" fill="#3a3a3a" text-anchor="start" font-weight="normal" >n-contact</text>
<line x1="1054.6" y1="95.0" x2="1148.8" y2="95.0" stroke="#333" stroke-width="2.2" />
<text x="976.0" y="139.0" font-size="22.6" fill="#3a3a3a" text-anchor="start" font-weight="normal" >n-InP</text>
<line x1="1037.6" y1="133.7" x2="1131.0" y2="133.7" stroke="#333" stroke-width="2.2" />
<text x="962.6" y="183.0" font-size="22.6" fill="#3a3a3a" text-anchor="start" font-weight="normal" >InGaAs</text>
<line x1="1047.9" y1="175.9" x2="1131.0" y2="175.9" stroke="#333" stroke-width="2.2" />
<text x="996.3" y="231.0" font-size="22.6" fill="#3a3a3a" text-anchor="start" font-weight="normal" >p-InP</text>
<line x1="1063.6" y1="224.4" x2="1148.8" y2="224.4" stroke="#333" stroke-width="2.2" />
<text x="929.0" y="277.0" font-size="22.6" fill="#3a3a3a" text-anchor="start" font-weight="normal" >p-InGaAsP</text>
<line x1="982.8" y1="287.2" x2="1027.7" y2="311.9" stroke="#333" stroke-width="2.2" />
<text x="924.5" y="364.0" font-size="22.6" fill="#3a3a3a" text-anchor="start" font-weight="normal" >InP substrate</text>
<text x="1279.0" y="116.0" font-size="22.6" fill="#3a3a3a" text-anchor="start" font-weight="normal" >n-InGaAs</text>
<line x1="1184.7" y1="107.7" x2="1265.5" y2="107.7" stroke="#333" stroke-width="2.2" />
<text x="1279.0" y="182.0" font-size="22.6" fill="#3a3a3a" text-anchor="start" font-weight="normal" >SiN</text>
<line x1="1196.0" y1="175.9" x2="1279.0" y2="175.9" stroke="#333" stroke-width="2.2" />
<text x="1305.9" y="364.0" font-size="22.6" fill="#3a3a3a" text-anchor="start" font-weight="normal" >p-contact</text>
<line x1="1330.6" y1="259.4" x2="1355.0" y2="341.0" stroke="#333" stroke-width="2.2" />
<text x="1395.0" y="31.5" font-size="42" fill="#000" text-anchor="start" font-weight="bold" >D</text>
<rect x="1502.6" y="46.2" width="425.8" height="364.2" fill="none" stroke="#2a2a2a" stroke-width="2.6"/>
<line x1="1502.6" y1="410.4" x2="1502.6" y2="414.4" stroke="#2a2a2a" stroke-width="2" />
<line x1="1502.6" y1="46.2" x2="1502.6" y2="50.2" stroke="#2a2a2a" stroke-width="2" />
<line x1="1531.0" y1="410.4" x2="1531.0" y2="417.4" stroke="#2a2a2a" stroke-width="2" />
<line x1="1531.0" y1="46.2" x2="1531.0" y2="53.2" stroke="#2a2a2a" stroke-width="2" />
<line x1="1559.4" y1="410.4" x2="1559.4" y2="414.4" stroke="#2a2a2a" stroke-width="2" />
<line x1="1559.4" y1="46.2" x2="1559.4" y2="50.2" stroke="#2a2a2a" stroke-width="2" />
<line x1="1587.8" y1="410.4" x2="1587.8" y2="417.4" stroke="#2a2a2a" stroke-width="2" />
<line x1="1587.8" y1="46.2" x2="1587.8" y2="53.2" stroke="#2a2a2a" stroke-width="2" />
<line x1="1616.1" y1="410.4" x2="1616.1" y2="414.4" stroke="#2a2a2a" stroke-width="2" />
<line x1="1616.1" y1="46.2" x2="1616.1" y2="50.2" stroke="#2a2a2a" stroke-width="2" />
<line x1="1644.5" y1="410.4" x2="1644.5" y2="417.4" stroke="#2a2a2a" stroke-width="2" />
<line x1="1644.5" y1="46.2" x2="1644.5" y2="53.2" stroke="#2a2a2a" stroke-width="2" />
<line x1="1672.9" y1="410.4" x2="1672.9" y2="414.4" stroke="#2a2a2a" stroke-width="2" />
<line x1="1672.9" y1="46.2" x2="1672.9" y2="50.2" stroke="#2a2a2a" stroke-width="2" />
<line x1="1701.3" y1="410.4" x2="1701.3" y2="417.4" stroke="#2a2a2a" stroke-width="2" />
<line x1="1701.3" y1="46.2" x2="1701.3" y2="53.2" stroke="#2a2a2a" stroke-width="2" />
<line x1="1729.7" y1="410.4" x2="1729.7" y2="414.4" stroke="#2a2a2a" stroke-width="2" />
<line x1="1729.7" y1="46.2" x2="1729.7" y2="50.2" stroke="#2a2a2a" stroke-width="2" />
<line x1="1758.1" y1="410.4" x2="1758.1" y2="417.4" stroke="#2a2a2a" stroke-width="2" />
<line x1="1758.1" y1="46.2" x2="1758.1" y2="53.2" stroke="#2a2a2a" stroke-width="2" />
<line x1="1786.5" y1="410.4" x2="1786.5" y2="414.4" stroke="#2a2a2a" stroke-width="2" />
<line x1="1786.5" y1="46.2" x2="1786.5" y2="50.2" stroke="#2a2a2a" stroke-width="2" />
<line x1="1814.9" y1="410.4" x2="1814.9" y2="417.4" stroke="#2a2a2a" stroke-width="2" />
<line x1="1814.9" y1="46.2" x2="1814.9" y2="53.2" stroke="#2a2a2a" stroke-width="2" />
<line x1="1843.2" y1="410.4" x2="1843.2" y2="414.4" stroke="#2a2a2a" stroke-width="2" />
<line x1="1843.2" y1="46.2" x2="1843.2" y2="50.2" stroke="#2a2a2a" stroke-width="2" />
<line x1="1871.6" y1="410.4" x2="1871.6" y2="417.4" stroke="#2a2a2a" stroke-width="2" />
<line x1="1871.6" y1="46.2" x2="1871.6" y2="53.2" stroke="#2a2a2a" stroke-width="2" />
<line x1="1900.0" y1="410.4" x2="1900.0" y2="414.4" stroke="#2a2a2a" stroke-width="2" />
<line x1="1900.0" y1="46.2" x2="1900.0" y2="50.2" stroke="#2a2a2a" stroke-width="2" />
<line x1="1928.4" y1="410.4" x2="1928.4" y2="417.4" stroke="#2a2a2a" stroke-width="2" />
<line x1="1928.4" y1="46.2" x2="1928.4" y2="53.2" stroke="#2a2a2a" stroke-width="2" />
<line x1="1496.6" y1="410.4" x2="1502.6" y2="410.4" stroke="#2a2a2a" stroke-width="2" />
<line x1="1928.4" y1="410.4" x2="1922.4" y2="410.4" stroke="#2a2a2a" stroke-width="2" />
<line x1="1498.6" y1="392.2" x2="1502.6" y2="392.2" stroke="#2a2a2a" stroke-width="2" />
<line x1="1928.4" y1="392.2" x2="1924.4" y2="392.2" stroke="#2a2a2a" stroke-width="2" />
<line x1="1498.6" y1="374.0" x2="1502.6" y2="374.0" stroke="#2a2a2a" stroke-width="2" />
<line x1="1928.4" y1="374.0" x2="1924.4" y2="374.0" stroke="#2a2a2a" stroke-width="2" />
<line x1="1498.6" y1="355.8" x2="1502.6" y2="355.8" stroke="#2a2a2a" stroke-width="2" />
<line x1="1928.4" y1="355.8" x2="1924.4" y2="355.8" stroke="#2a2a2a" stroke-width="2" />
<line x1="1496.6" y1="337.6" x2="1502.6" y2="337.6" stroke="#2a2a2a" stroke-width="2" />
<line x1="1928.4" y1="337.6" x2="1922.4" y2="337.6" stroke="#2a2a2a" stroke-width="2" />
<line x1="1498.6" y1="319.3" x2="1502.6" y2="319.3" stroke="#2a2a2a" stroke-width="2" />
<line x1="1928.4" y1="319.3" x2="1924.4" y2="319.3" stroke="#2a2a2a" stroke-width="2" />
<line x1="1498.6" y1="301.1" x2="1502.6" y2="301.1" stroke="#2a2a2a" stroke-width="2" />
<line x1="1928.4" y1="301.1" x2="1924.4" y2="301.1" stroke="#2a2a2a" stroke-width="2" />
<line x1="1498.6" y1="282.9" x2="1502.6" y2="282.9" stroke="#2a2a2a" stroke-width="2" />
<line x1="1928.4" y1="282.9" x2="1924.4" y2="282.9" stroke="#2a2a2a" stroke-width="2" />
<line x1="1496.6" y1="264.7" x2="1502.6" y2="264.7" stroke="#2a2a2a" stroke-width="2" />
<line x1="1928.4" y1="264.7" x2="1922.4" y2="264.7" stroke="#2a2a2a" stroke-width="2" />
<line x1="1498.6" y1="246.5" x2="1502.6" y2="246.5" stroke="#2a2a2a" stroke-width="2" />
<line x1="1928.4" y1="246.5" x2="1924.4" y2="246.5" stroke="#2a2a2a" stroke-width="2" />
<line x1="1498.6" y1="228.3" x2="1502.6" y2="228.3" stroke="#2a2a2a" stroke-width="2" />
<line x1="1928.4" y1="228.3" x2="1924.4" y2="228.3" stroke="#2a2a2a" stroke-width="2" />
<line x1="1498.6" y1="210.1" x2="1502.6" y2="210.1" stroke="#2a2a2a" stroke-width="2" />
<line x1="1928.4" y1="210.1" x2="1924.4" y2="210.1" stroke="#2a2a2a" stroke-width="2" />
<line x1="1496.6" y1="191.9" x2="1502.6" y2="191.9" stroke="#2a2a2a" stroke-width="2" />
<line x1="1928.4" y1="191.9" x2="1922.4" y2="191.9" stroke="#2a2a2a" stroke-width="2" />
<line x1="1498.6" y1="173.7" x2="1502.6" y2="173.7" stroke="#2a2a2a" stroke-width="2" />
<line x1="1928.4" y1="173.7" x2="1924.4" y2="173.7" stroke="#2a2a2a" stroke-width="2" />
<line x1="1498.6" y1="155.5" x2="1502.6" y2="155.5" stroke="#2a2a2a" stroke-width="2" />
<line x1="1928.4" y1="155.5" x2="1924.4" y2="155.5" stroke="#2a2a2a" stroke-width="2" />
<line x1="1498.6" y1="137.2" x2="1502.6" y2="137.2" stroke="#2a2a2a" stroke-width="2" />
<line x1="1928.4" y1="137.2" x2="1924.4" y2="137.2" stroke="#2a2a2a" stroke-width="2" />
<line x1="1496.6" y1="119.0" x2="1502.6" y2="119.0" stroke="#2a2a2a" stroke-width="2" />
<line x1="1928.4" y1="119.0" x2="1922.4" y2="119.0" stroke="#2a2a2a" stroke-width="2" />
<line x1="1498.6" y1="100.8" x2="1502.6" y2="100.8" stroke="#2a2a2a" stroke-width="2" />
<line x1="1928.4" y1="100.8" x2="1924.4" y2="100.8" stroke="#2a2a2a" stroke-width="2" />
<line x1="1498.6" y1="82.6" x2="1502.6" y2="82.6" stroke="#2a2a2a" stroke-width="2" />
<line x1="1928.4" y1="82.6" x2="1924.4" y2="82.6" stroke="#2a2a2a" stroke-width="2" />
<line x1="1498.6" y1="64.4" x2="1502.6" y2="64.4" stroke="#2a2a2a" stroke-width="2" />
<line x1="1928.4" y1="64.4" x2="1924.4" y2="64.4" stroke="#2a2a2a" stroke-width="2" />
<line x1="1496.6" y1="46.2" x2="1502.6" y2="46.2" stroke="#2a2a2a" stroke-width="2" />
<line x1="1928.4" y1="46.2" x2="1922.4" y2="46.2" stroke="#2a2a2a" stroke-width="2" />
<text x="1490.0" y="416.9" font-size="20.7" fill="#1a1a1a" text-anchor="end" font-weight="normal" >1360</text>
<text x="1490.0" y="344.1" font-size="20.7" fill="#1a1a1a" text-anchor="end" font-weight="normal" >1400</text>
<text x="1490.0" y="271.2" font-size="20.7" fill="#1a1a1a" text-anchor="end" font-weight="normal" >1440</text>
<text x="1490.0" y="198.4" font-size="20.7" fill="#1a1a1a" text-anchor="end" font-weight="normal" >1480</text>
<text x="1490.0" y="125.5" font-size="20.7" fill="#1a1a1a" text-anchor="end" font-weight="normal" >1520</text>
<text x="1490.0" y="52.7" font-size="20.7" fill="#1a1a1a" text-anchor="end" font-weight="normal" >1560</text>
<text x="1531.0" y="441.0" font-size="20.7" fill="#1a1a1a" text-anchor="middle" font-weight="normal" >330</text>
<text x="1587.8" y="441.0" font-size="20.7" fill="#1a1a1a" text-anchor="middle" font-weight="normal" >340</text>
<text x="1644.5" y="441.0" font-size="20.7" fill="#1a1a1a" text-anchor="middle" font-weight="normal" >350</text>
<text x="1701.3" y="441.0" font-size="20.7" fill="#1a1a1a" text-anchor="middle" font-weight="normal" >360</text>
<text x="1758.1" y="441.0" font-size="20.7" fill="#1a1a1a" text-anchor="middle" font-weight="normal" >370</text>
<text x="1814.9" y="441.0" font-size="20.7" fill="#1a1a1a" text-anchor="middle" font-weight="normal" >380</text>
<text x="1871.6" y="441.0" font-size="20.7" fill="#1a1a1a" text-anchor="middle" font-weight="normal" >390</text>
<text x="1928.4" y="441.0" font-size="20.7" fill="#1a1a1a" text-anchor="middle" font-weight="normal" >400</text>
<text x="1711.0" y="469.0" font-size="20.6" fill="#1a1a1a" text-anchor="middle" font-weight="normal" >Diameter (nm)</text>
<text x="0" y="0" font-size="20.7" fill="#1a1a1a" text-anchor="middle" transform="translate(1430,237) rotate(-90)">Resonance wavelength (nm)</text>
<clipPath id="clipSem"><rect x="1532.2" y="61.3" width="140.5" height="196.7"/></clipPath><g clip-path="url(#clipSem)">
<rect x="1532.2" y="61.3" width="140.5" height="196.7" fill="#6c6c6c"/>
<rect x="1532.2" y="61.3" width="50" height="196.7" fill="#787878" opacity="0.5" filter="url(#blur8)"/>
<ellipse cx="1610" cy="252" rx="55" ry="10" fill="#3a3838" filter="url(#blur4)"/>
<radialGradient id="semSh" cx="50%" cy="50%" r="50%"><stop offset="0" stop-color="#262220" stop-opacity="0.85"/><stop offset="1" stop-color="#262220" stop-opacity="0"/></radialGradient>
<ellipse cx="1668" cy="258" rx="34" ry="26" fill="url(#semSh)"/>
<path d="M1567,96 L1567,200 Q1566,236 1561,249 L1646,249 Q1640,236 1640,200 L1640,96 Z" fill="url(#semPil)" stroke="none" stroke-width="1" />
<linearGradient id="semTop" x1="0" x2="0" y1="0" y2="1"><stop offset="0" stop-color="#8a8a8a" stop-opacity="0.55"/><stop offset="1" stop-color="#8a8a8a" stop-opacity="0"/></linearGradient>
<rect x="1569" y="98" width="70" height="60" fill="url(#semTop)"/>
<path d="M1569,96 L1569,200 Q1568,236 1562,250" fill="none" stroke="#a8a8a8" stroke-width="2" opacity="0.8"/>
<path d="M1640,96 L1640,200 Q1640,236 1647,250" fill="none" stroke="#999" stroke-width="2" opacity="0.8"/>
<ellipse cx="1604" cy="93" rx="36" ry="9" fill="#a8a8a8"/>
<ellipse cx="1604" cy="91" rx="30" ry="7" fill="#8a8a8a"/>
<path d="M1582,90 Q1584,70 1605,68 Q1626,70 1628,90 Z" fill="#9a9a9a"/>
<ellipse cx="1605" cy="80" rx="17" ry="5" fill="#858585"/>
</g>
<rect x="1737.6" y="235.4" width="175.0" height="157.70000000000002" fill="#161616"/>
<circle cx="1782.7" cy="279" r="33" fill="url(#ring)" opacity="0.95"/>
<circle cx="1782.7" cy="279" r="24" fill="none" stroke="#4a4a4a" stroke-width="3" opacity="0.7" filter="url(#blur2)"/>
<circle cx="1782.7" cy="279" r="14" fill="none" stroke="#3a3a3a" stroke-width="2" opacity="0.8"/>
<circle cx="1782.7" cy="279" r="3" fill="#ffffff"/>
<circle cx="1869.9" cy="278" r="33" fill="url(#ring)" opacity="0.95"/>
<circle cx="1869.9" cy="278" r="24" fill="none" stroke="#4a4a4a" stroke-width="3" opacity="0.7" filter="url(#blur2)"/>
<circle cx="1869.9" cy="278" r="14" fill="none" stroke="#3a3a3a" stroke-width="2" opacity="0.8"/>
<circle cx="1869.9" cy="278" r="3" fill="#ffffff"/>
<circle cx="1781.8" cy="357" r="33" fill="url(#ring)" opacity="0.95"/>
<circle cx="1781.8" cy="357" r="24" fill="none" stroke="#4a4a4a" stroke-width="3" opacity="0.7" filter="url(#blur2)"/>
<circle cx="1781.8" cy="357" r="14" fill="none" stroke="#3a3a3a" stroke-width="2" opacity="0.8"/>
<circle cx="1781.8" cy="357" r="3" fill="#ffffff"/>
<circle cx="1871.7" cy="358" r="33" fill="url(#ring)" opacity="0.95"/>
<circle cx="1871.7" cy="358" r="24" fill="none" stroke="#4a4a4a" stroke-width="3" opacity="0.7" filter="url(#blur2)"/>
<circle cx="1871.7" cy="358" r="14" fill="none" stroke="#3a3a3a" stroke-width="2" opacity="0.8"/>
<circle cx="1871.7" cy="358" r="3" fill="#ffffff"/>
<ellipse cx="1782.5" cy="280" rx="3.5" ry="2.5" fill="#fff"/><ellipse cx="1782.5" cy="273.5" rx="2.5" ry="2" fill="#ddd"/>
<line x1="1825.4" y1="235.4" x2="1825.4" y2="393.1" stroke="#a8a8a8" stroke-width="1.6" />
<line x1="1737.6" y1="314.5" x2="1912.6" y2="314.5" stroke="#a8a8a8" stroke-width="1.6" />
<line x1="1743.0" y1="244.0" x2="1758.0" y2="244.0" stroke="#f0f0f0" stroke-width="2"/>
<polyline points="1753.7,246.5 1758.0,244.0 1753.7,241.5" fill="none" stroke="#f0f0f0" stroke-width="2"/>
<line x1="1758.0" y1="244.0" x2="1743.0" y2="244.0" stroke="#f0f0f0" stroke-width="2"/>
<polyline points="1747.3,241.5 1743.0,244.0 1747.3,246.5" fill="none" stroke="#f0f0f0" stroke-width="2"/>
<line x1="1831.0" y1="240.0" x2="1846.0" y2="252.0" stroke="#f0f0f0" stroke-width="2"/>
<polyline points="1841.1,251.2 1846.0,252.0 1844.2,247.3" fill="none" stroke="#f0f0f0" stroke-width="2"/>
<line x1="1846.0" y1="252.0" x2="1831.0" y2="240.0" stroke="#f0f0f0" stroke-width="2"/>
<polyline points="1835.9,240.8 1831.0,240.0 1832.8,244.7" fill="none" stroke="#f0f0f0" stroke-width="2"/>
<line x1="1746.0" y1="321.0" x2="1746.0" y2="335.0" stroke="#f0f0f0" stroke-width="2"/>
<polyline points="1743.5,330.7 1746.0,335.0 1748.5,330.7" fill="none" stroke="#f0f0f0" stroke-width="2"/>
<line x1="1746.0" y1="335.0" x2="1746.0" y2="321.0" stroke="#f0f0f0" stroke-width="2"/>
<polyline points="1748.5,325.3 1746.0,321.0 1743.5,325.3" fill="none" stroke="#f0f0f0" stroke-width="2"/>
<line x1="1831.0" y1="332.0" x2="1846.0" y2="319.0" stroke="#f0f0f0" stroke-width="2"/>
<polyline points="1844.4,323.7 1846.0,319.0 1841.1,319.9" fill="none" stroke="#f0f0f0" stroke-width="2"/>
<line x1="1846.0" y1="319.0" x2="1831.0" y2="332.0" stroke="#f0f0f0" stroke-width="2"/>
<polyline points="1832.6,327.3 1831.0,332.0 1835.9,331.1" fill="none" stroke="#f0f0f0" stroke-width="2"/>
<line x1="1515.0" y1="414.0" x2="1924.2" y2="67.4" stroke="#222" stroke-width="2.4" />
<rect x="1524.3" y="385.9" width="13" height="13" fill="#e8141c"/>
<rect x="1581.8" y="346.4" width="13" height="13" fill="#e8141c"/>
<rect x="1638.7" y="299.7" width="13" height="13" fill="#e8141c"/>
<rect x="1724.4" y="210.0" width="13" height="13" fill="#e8141c"/>
<rect x="1752.6" y="188.4" width="13" height="13" fill="#e8141c"/>
<rect x="1810.0" y="168.9" width="13" height="13" fill="#e8141c"/>
<rect x="1866.5" y="93.5" width="13" height="13" fill="#e8141c"/>
<text x="-2.5" y="506.0" font-size="42" fill="#000" text-anchor="start" font-weight="bold" >E</text>
<clipPath id="clipE"><rect x="30.7" y="509.7" width="553.0999999999999" height="363.2"/></clipPath>
<g clip-path="url(#clipE)">
<rect x="30.7" y="509.7" width="553.0999999999999" height="363.2" fill="url(#tealG)"/>
<ellipse cx="250" cy="655" rx="210" ry="80" fill="#2a78c8" opacity="0.75" filter="url(#blur15)" transform="rotate(27 250 655)"/>
<ellipse cx="215" cy="640" rx="120" ry="75" fill="#3a88d8" opacity="0.6" filter="url(#blur15)" transform="rotate(20 215 640)"/>
<polygon points="320.0,509.7 584.0,509.7 584.0,634.0" fill="#3b3939" />
<polygon points="30.7,678.7 343.2,872.9 273.7,872.9 30.7,717.5" fill="#1c4a56" />
<polygon points="30.7,717.5 273.7,872.9 30.7,872.9" fill="#3d3a3a" />
<polygon points="30.7,509.7 160.0,509.7 186.7,525.6 30.7,604.7" fill="#d6d6d8" />
<polygon points="30.7,604.7 186.7,525.6 186.7,536.5 30.7,615.4" fill="#b0b0b4" />
<polygon points="30.7,615.4 105.5,579.0 105.5,594.0 30.7,630.3" fill="#3aa048" />
<polygon points="131.0,564.0 186.7,537.0 186.7,552.4 148.0,572.6" fill="#3a9a60" />
<linearGradient id="sideG" x1="0" x2="0" y1="0" y2="1"><stop offset="0" stop-color="#b8bcec"/><stop offset="0.45" stop-color="#8aa0e8"/><stop offset="0.6" stop-color="#4a68d0"/><stop offset="1" stop-color="#2a40b0"/></linearGradient>
<polygon points="113.0,581.2 451.4,744.1 451.4,771.4 432.2,777.8 105.0,595.0" fill="#5a6ed0" />
<polygon points="113.0,577.0 451.4,753.0 451.4,762.0 109.0,586.0" fill="#aab2ea" />
<polygon points="400.0,742.0 451.4,767.0 451.4,771.4 432.2,777.8 400.0,762.0" fill="#3a9a50" opacity="0.6"/>
<path d="M112,589 L440,754" stroke="#8ae0ff" stroke-width="6" opacity="0.85" filter="url(#blur2)"/>
<path d="M112,589 L440,754" stroke="#ffffff" stroke-width="2.2"/>
<line x1="105.0" y1="595.5" x2="432.2" y2="778.0" stroke="#1a2a70" stroke-width="1.4" opacity="0.7"/>
<polygon points="128.0,563.8 451.4,739.0 451.4,753.0 113.0,577.0" fill="#ececf8" />
<polygon points="105.0,565.0 128.0,563.8 113.0,577.0 105.0,595.0" fill="#1c2288" />
<polygon points="105.0,577.0 113.0,577.0 113.0,596.0 105.0,595.0" fill="#20309a" />
<polygon points="432.2,729.0 451.4,740.2 451.4,752.0 432.2,757.0" fill="#f4f4f4" />
<polygon points="432.2,757.0 451.4,752.0 451.4,771.4 432.2,777.8" fill="#3aa048" />
<ellipse cx="220" cy="645" rx="135" ry="90" fill="url(#haloE)" opacity="0.75" transform="rotate(25 220 645)"/>
<ellipse cx="222" cy="641" rx="58" ry="43.5" fill="none" stroke="#c8e0ff" stroke-width="2.5" opacity="0.28" filter="url(#blur2)" transform="rotate(28 222 641)"/>
<ellipse cx="222" cy="641" rx="70" ry="52.5" fill="none" stroke="#c8e0ff" stroke-width="2.5" opacity="0.2" filter="url(#blur2)" transform="rotate(28 222 641)"/>
<ellipse cx="222" cy="641" rx="84" ry="63.0" fill="none" stroke="#c8e0ff" stroke-width="2.5" opacity="0.14" filter="url(#blur2)" transform="rotate(28 222 641)"/>
<ellipse cx="222" cy="641" rx="80" ry="52" fill="url(#glowE)" transform="rotate(28 222 641)"/>
<ellipse cx="223" cy="641" rx="46" ry="30" fill="#ffffff" filter="url(#blur4)" transform="rotate(28 223 641)"/>
<ellipse cx="200" cy="655" rx="14" ry="8" fill="#ffb8d4" opacity="0.45" filter="url(#blur4)" transform="rotate(28 200 655)"/>
<ellipse cx="244" cy="620" rx="14" ry="8" fill="#ffb8d4" opacity="0.45" filter="url(#blur4)" transform="rotate(28 244 620)"/>
<line x1="186.8" y1="723.8" x2="257.2" y2="558.2" stroke="#ffffff" stroke-width="3.2" opacity="0.85" filter="url(#blur2)"/>
<line x1="208.6" y1="696.4" x2="263.4" y2="567.6" stroke="#ffffff" stroke-width="2.2" opacity="0.6" filter="url(#blur2)"/>
<line x1="178.6" y1="714.4" x2="233.4" y2="585.6" stroke="#ffffff" stroke-width="2.2" opacity="0.6" filter="url(#blur2)"/>
<line x1="232.4" y1="666.4" x2="267.6" y2="583.6" stroke="#ffffff" stroke-width="1.6" opacity="0.5" filter="url(#blur2)"/>
<line x1="172.5" y1="704.0" x2="211.5" y2="612.0" stroke="#ffffff" stroke-width="1.6" opacity="0.5" filter="url(#blur2)"/>
<line x1="107.2" y1="580.0" x2="336.8" y2="702.0" stroke="#ffffff" stroke-width="3" opacity="0.7" filter="url(#blur2)"/>
</g>
<text x="0" y="0" font-size="24.5" fill="#3a2a2a" transform="translate(272,613) rotate(29.5)">ZnO/MgO/Ag strips</text>
<text x="0" y="0" font-size="24" fill="#2a2a30" transform="translate(318,834) rotate(-33)"><tspan font-style="italic">p</tspan>-GaN</text>
<line x1="108.1" y1="752.2" x2="108.1" y2="659.0" stroke="#f4f4f4" stroke-width="2"/>
<polyline points="112.1,665.9 108.1,659.0 104.1,665.9" fill="none" stroke="#f4f4f4" stroke-width="2"/>
<line x1="108.1" y1="752.2" x2="52.5" y2="782.5" stroke="#f4f4f4" stroke-width="2"/>
<polyline points="56.7,775.7 52.5,782.5 60.5,782.7" fill="none" stroke="#f4f4f4" stroke-width="2"/>
<line x1="108.1" y1="752.2" x2="186.5" y2="800.0" stroke="#f4f4f4" stroke-width="2"/>
<polyline points="178.5,799.8 186.5,800.0 182.7,793.0" fill="none" stroke="#f4f4f4" stroke-width="2"/>
<text x="86.5" y="676.0" font-size="22" fill="#f4f4f4" text-anchor="start" font-weight="normal" font-style="italic">z</text>
<text x="52.0" y="768.0" font-size="22" fill="#f4f4f4" text-anchor="start" font-weight="normal" font-style="italic">x</text>
<text x="169.0" y="778.0" font-size="22" fill="#f4f4f4" text-anchor="start" font-weight="normal" font-style="italic">y</text>
<rect x="431" y="728.6" width="25.7" height="57.7" fill="none" stroke="#333" stroke-width="1.5"/>
<line x1="446.5" y1="728.6" x2="706.6" y2="537.6" stroke="#333" stroke-width="1.4" />
<line x1="446.5" y1="786.3" x2="675.4" y2="863.1" stroke="#333" stroke-width="1.4" />
<rect x="706.6" y="542.7" width="161.9" height="90.6" fill="#fff" stroke="#333" stroke-width="1.3"/>
<rect x="706.6" y="633.3" width="161.9" height="18.3" fill="#bfe0b4" stroke="#333" stroke-width="1"/>
<rect x="706.6" y="651.6" width="161.9" height="80.4" fill="#3c8a38" stroke="#333" stroke-width="1"/>
<rect x="706.6" y="732" width="161.9" height="15" fill="#c0e2b6" stroke="#333" stroke-width="1"/>
<rect x="675.4" y="747" width="224.3" height="116.1" fill="#3eaac8" stroke="#333" stroke-width="1"/>
<line x1="706.6" y1="537.6" x2="868.5" y2="537.6" stroke="#333" stroke-width="1.2" />
<line x1="706.6" y1="530.0" x2="706.6" y2="542.7" stroke="#333" stroke-width="1.2" />
<line x1="868.5" y1="530.0" x2="868.5" y2="542.7" stroke="#333" stroke-width="1.2" />
<line x1="873.5" y1="542.7" x2="873.5" y2="633.3" stroke="#333" stroke-width="1.2" />
<line x1="868.5" y1="542.7" x2="877.0" y2="542.7" stroke="#333" stroke-width="1.2" />
<line x1="873.5" y1="651.6" x2="873.5" y2="732.0" stroke="#333" stroke-width="1.2" />
<line x1="868.5" y1="732.0" x2="877.0" y2="732.0" stroke="#333" stroke-width="1.2" />
<line x1="868.5" y1="651.6" x2="877.0" y2="651.6" stroke="#333" stroke-width="1.2" />
<line x1="904.5" y1="747.0" x2="904.5" y2="863.1" stroke="#333" stroke-width="1.2" />
<line x1="899.7" y1="747.0" x2="909.0" y2="747.0" stroke="#333" stroke-width="1.2" />
<line x1="899.7" y1="863.1" x2="909.0" y2="863.1" stroke="#333" stroke-width="1.2" />
<line x1="701.0" y1="633.3" x2="706.6" y2="633.3" stroke="#333" stroke-width="1.1" />
<line x1="703.5" y1="633.3" x2="703.5" y2="651.6" stroke="#333" stroke-width="1.1" />
<line x1="701.0" y1="651.6" x2="706.6" y2="651.6" stroke="#333" stroke-width="1.1" />
<line x1="701.0" y1="732.0" x2="706.6" y2="732.0" stroke="#333" stroke-width="1.1" />
<line x1="703.5" y1="732.0" x2="703.5" y2="747.0" stroke="#333" stroke-width="1.1" />
<line x1="701.0" y1="747.0" x2="706.6" y2="747.0" stroke="#333" stroke-width="1.1" />
<path d="M706.6,642 q3.6,-9 7.2,0 q3.6,9 7.2,0 q3.6,-9 7.2,0 q3.6,9 7.2,0 q3.6,-9 7.2,0 q3.6,9 7.2,0 q3.6,-9 7.2,0 q3.6,9 7.2,0 q3.6,-9 7.2,0 q3.6,9 7.2,0 q3.6,-9 7.2,0 q3.6,9 7.2,0 q3.6,-9 7.2,0 q3.6,9 7.2,0 q3.6,-9 7.2,0 q3.6,9 7.2,0 q3.6,-9 7.2,0 q3.6,9 7.2,0 q3.6,-9 7.2,0 q3.6,9 7.2,0 q3.6,-9 7.2,0 q3.6,9 7.2,0 q3.6,-9 7.2,0 q3.6,9 7.2,0" fill="none" stroke="#f06040" stroke-width="1.3" />
<path d="M706.6,643 q3.6,-9 7.2,0 q3.6,9 7.2,0 q3.6,-9 7.2,0 q3.6,9 7.2,0 q3.6,-9 7.2,0 q3.6,9 7.2,0 q3.6,-9 7.2,0 q3.6,9 7.2,0 q3.6,-9 7.2,0 q3.6,9 7.2,0 q3.6,-9 7.2,0 q3.6,9 7.2,0 q3.6,-9 7.2,0 q3.6,9 7.2,0 q3.6,-9 7.2,0 q3.6,9 7.2,0 q3.6,-9 7.2,0 q3.6,9 7.2,0 q3.6,-9 7.2,0 q3.6,9 7.2,0 q3.6,-9 7.2,0 q3.6,9 7.2,0 q3.6,-9 7.2,0 q3.6,9 7.2,0" fill="none" stroke="#e87a30" stroke-width="0.8" opacity="0.6" transform="translate(3.6,0)"/>
<line x1="680.0" y1="643.0" x2="895.0" y2="643.0" stroke="#e82020" stroke-width="1.6" />
<polygon points="673.3,643.0 684.0,638.5 684.0,647.5" fill="#e82020" />
<polygon points="901.8,643.0 891.0,638.5 891.0,647.5" fill="#e82020" />
<text x="785.0" y="530.0" font-size="20" fill="#333" text-anchor="middle" font-weight="normal" >8 μm</text>
<text x="779.0" y="581.0" font-size="19.6" fill="#333" text-anchor="middle" font-weight="normal" >Ag</text>
<text x="780.0" y="705.0" font-size="22" fill="#1a2a1a" text-anchor="middle" font-weight="normal" >ZnO</text>
<text x="782.0" y="814.0" font-size="22" fill="#1a2a3a" text-anchor="middle" font-weight="normal" ><tspan font-style="italic">p</tspan>-GaN</text>
<text x="652.0" y="639.0" font-size="18" fill="#333" text-anchor="start" font-weight="normal" >MgO</text>
<text x="652.0" y="662.0" font-size="18" fill="#333" text-anchor="start" font-weight="normal" >7 nm</text>
<text x="652.0" y="722.0" font-size="18" fill="#333" text-anchor="start" font-weight="normal" >MgO</text>
<text x="652.0" y="745.6" font-size="18" fill="#333" text-anchor="start" font-weight="normal" >5 nm</text>
<text x="0" y="0" font-size="19.2" fill="#333" text-anchor="middle" transform="translate(885,592) rotate(90)">100 nm</text>
<text x="0" y="0" font-size="23" fill="#333" text-anchor="middle" transform="translate(884,694) rotate(90)">85 nm</text>
<text x="0" y="0" font-size="19" fill="#333" text-anchor="middle" transform="translate(916,803) rotate(90)">2 μm</text>
<line x1="666.9" y1="863.0" x2="666.9" y2="820.0" stroke="#222" stroke-width="1.6"/>
<polyline points="670.4,826.1 666.9,820.0 663.4,826.1" fill="none" stroke="#222" stroke-width="1.6"/>
<line x1="666.9" y1="876.0" x2="727.0" y2="876.0" stroke="#222" stroke-width="1.6"/>
<polyline points="720.9,879.5 727.0,876.0 720.9,872.5" fill="none" stroke="#222" stroke-width="1.6"/>
<line x1="666.9" y1="863.0" x2="666.9" y2="876.0" stroke="#222" stroke-width="1.6" />
<text x="660.0" y="807.5" font-size="19" fill="#222" text-anchor="start" font-weight="normal" font-style="italic">z</text>
<text x="741.6" y="882.0" font-size="19" fill="#222" text-anchor="start" font-weight="normal" font-style="italic">x</text>
<text x="942.5" y="506.0" font-size="42" fill="#000" text-anchor="start" font-weight="bold" >F</text>
<path d="M990,584.6 L975.8,584.6 L975.8,550.5 L1161.3,550.5" fill="none" stroke="#333" stroke-width="1.8" />
<path d="M1199.4,550.5 L1386.5,550.5 L1386.5,584.6 L1371.3,584.6" fill="none" stroke="#333" stroke-width="1.8" />
<line x1="1161.3" y1="540.5" x2="1161.3" y2="561.5" stroke="#333" stroke-width="2" />
<line x1="1173.0" y1="546.0" x2="1173.0" y2="556.0" stroke="#333" stroke-width="2.6" />
<line x1="1187.0" y1="540.5" x2="1187.0" y2="561.5" stroke="#333" stroke-width="2" />
<line x1="1199.4" y1="546.0" x2="1199.4" y2="556.0" stroke="#333" stroke-width="2.6" />
<text x="1148.5" y="538.5" font-size="23" fill="#222" text-anchor="middle" font-weight="normal" >+</text>
<text x="1178.0" y="532.0" font-size="22" fill="#222" text-anchor="middle" font-weight="normal" >V</text>
<text x="1215.0" y="540.0" font-size="24" fill="#222" text-anchor="middle" font-weight="bold" >−</text>
<rect x="990" y="569.3" width="151" height="43.2" fill="#3eaac8"/>
<rect x="1141" y="569.3" width="11.7" height="43.2" fill="#b6dcae"/>
<rect x="1152.7" y="569.3" width="127.1" height="43.2" fill="#3c8a38"/>
<rect x="1279.8" y="569.3" width="10.2" height="43.2" fill="#b6dcae"/>
<rect x="1290" y="569.3" width="81.3" height="43.2" fill="#fff"/>
<rect x="990" y="569.3" width="381.3" height="43.2" fill="none" stroke="#555" stroke-width="1.2"/>
<text x="1019.0" y="602.3" font-size="23.5" fill="#1a1a2a" text-anchor="start" font-weight="normal" ><tspan font-style="italic">p</tspan>-GaN</text>
<text x="1118.0" y="602.3" font-size="23.5" fill="#1a1a1a" text-anchor="start" font-weight="normal" >MgO</text>
<text x="1194.0" y="602.3" font-size="23.5" fill="#1a1a1a" text-anchor="start" font-weight="normal" >ZnO</text>
<text x="1255.0" y="602.3" font-size="23.5" fill="#1a1a1a" text-anchor="start" font-weight="normal" >MgO</text>
<text x="1321.5" y="602.3" font-size="23.5" fill="#1a1a1a" text-anchor="start" font-weight="normal" >Ag</text>
<path d="M988,784.6 L1070,784.6 C1100,784 1125,775 1139,760.6" fill="none" stroke="#2a78d0" stroke-width="2.6" />
<path d="M988,871.3 L1098.6,866.9 C1115,864 1126,857 1139,848" fill="none" stroke="#2a78d0" stroke-width="2.6" />
<path d="M1150.3,766 C1160,756 1175,751 1195,748.5 L1276.7,734.5" fill="none" stroke="#2a78d0" stroke-width="2.6" />
<path d="M1150.3,856.5 Q1158,838 1174.9,835.5 L1276.7,813" fill="none" stroke="#2a78d0" stroke-width="2.6" />
<path d="M1139,688.8 L1150.3,667.9 L1150.3,859.4 L1139,874.4 Z" fill="#fff" stroke="#2a78d0" stroke-width="2.6" />
<path d="M1276.7,650 L1287.1,628.4 L1287.1,820.5 L1276.7,837 Z" fill="#fff" stroke="#2a78d0" stroke-width="2.6" />
<line x1="1166.0" y1="724.2" x2="1369.4" y2="724.2" stroke="#333" stroke-width="1.6" stroke-dasharray="5,4"/>
<line x1="988.0" y1="865.4" x2="1228.8" y2="865.4" stroke="#333" stroke-width="1.6" stroke-dasharray="5,4"/>
<line x1="1151.0" y1="667.3" x2="1171.0" y2="667.3" stroke="#333" stroke-width="1.4" />
<line x1="1152.0" y1="766.7" x2="1171.0" y2="766.7" stroke="#333" stroke-width="1.4" />
<line x1="1163.0" y1="717.0" x2="1163.0" y2="669.0" stroke="#333" stroke-width="1.3"/>
<polyline points="1165.5,673.3 1163.0,669.0 1160.5,673.3" fill="none" stroke="#333" stroke-width="1.3"/>
<line x1="1163.0" y1="717.0" x2="1163.0" y2="765.0" stroke="#333" stroke-width="1.3"/>
<polyline points="1160.5,760.7 1163.0,765.0 1165.5,760.7" fill="none" stroke="#333" stroke-width="1.3"/>
<line x1="1174.9" y1="795.0" x2="1174.9" y2="726.0" stroke="#333" stroke-width="1.3"/>
<polyline points="1177.4,730.3 1174.9,726.0 1172.4,730.3" fill="none" stroke="#333" stroke-width="1.3"/>
<line x1="1174.9" y1="795.0" x2="1174.9" y2="863.0" stroke="#333" stroke-width="1.3"/>
<polyline points="1172.4,858.7 1174.9,863.0 1177.4,858.7" fill="none" stroke="#333" stroke-width="1.3"/>
<line x1="1107.0" y1="843.0" x2="1137.0" y2="843.0" stroke="#333" stroke-width="1.4" />
<line x1="1121.0" y1="854.0" x2="1121.0" y2="845.0" stroke="#333" stroke-width="1.3"/>
<polyline points="1123.0,848.5 1121.0,845.0 1119.0,848.5" fill="none" stroke="#333" stroke-width="1.3"/>
<line x1="1121.0" y1="854.0" x2="1121.0" y2="864.0" stroke="#333" stroke-width="1.3"/>
<polyline points="1119.0,860.5 1121.0,864.0 1123.0,860.5" fill="none" stroke="#333" stroke-width="1.3"/>
<line x1="1199.4" y1="745.7" x2="1199.4" y2="826.0" stroke="#7ac040" stroke-width="1.6"/>
<polyline points="1196.9,821.7 1199.4,826.0 1201.9,821.7" fill="none" stroke="#7ac040" stroke-width="1.6"/>
<line x1="1220.7" y1="742.0" x2="1220.7" y2="826.0" stroke="#7ac040" stroke-width="1.6"/>
<polyline points="1218.2,821.7 1220.7,826.0 1223.2,821.7" fill="none" stroke="#7ac040" stroke-width="1.6"/>
<path d="M1131.5,868 Q1138,890 1146,878 Q1154,862 1161.4,853.4" fill="none" stroke="#e83020" stroke-width="1.8" />
<path d="M1264,720 Q1287,698 1302,712" fill="none" stroke="#222" stroke-width="1.5" />
<circle cx="1155.4" cy="756.2" r="6.8" fill="#111"/>
<line x1="1151.9" y1="756.2" x2="1158.9" y2="756.2" stroke="#ddd" stroke-width="1.8"/>
<circle cx="1167.4" cy="748" r="6.8" fill="#111"/>
<line x1="1163.9" y1="748" x2="1170.9" y2="748" stroke="#ddd" stroke-width="1.8"/>
<circle cx="1182.4" cy="742.7" r="6.8" fill="#111"/>
<line x1="1178.9" y1="742.7" x2="1185.9" y2="742.7" stroke="#ddd" stroke-width="1.8"/>
<circle cx="1199.4" cy="739.7" r="6.8" fill="#111"/>
<line x1="1195.9" y1="739.7" x2="1202.9" y2="739.7" stroke="#ddd" stroke-width="1.8"/>
<circle cx="1219.8" cy="736.1" r="6.8" fill="#111"/>
<line x1="1216.3" y1="736.1" x2="1223.3" y2="736.1" stroke="#ddd" stroke-width="1.8"/>
<circle cx="1240.1" cy="732.5" r="6.8" fill="#111"/>
<line x1="1236.6" y1="732.5" x2="1243.6" y2="732.5" stroke="#ddd" stroke-width="1.8"/>
<circle cx="1258.1" cy="729.5" r="6.8" fill="#111"/>
<line x1="1254.6" y1="729.5" x2="1261.6" y2="729.5" stroke="#ddd" stroke-width="1.8"/>
<circle cx="1306.6" cy="716.4" r="6.8" fill="#111"/>
<line x1="1303.1" y1="716.4" x2="1310.1" y2="716.4" stroke="#ddd" stroke-width="1.8"/>
<circle cx="1324.5" cy="716.4" r="6.8" fill="#111"/>
<line x1="1321.0" y1="716.4" x2="1328.0" y2="716.4" stroke="#ddd" stroke-width="1.8"/>
<circle cx="1343.1" cy="716.4" r="6.8" fill="#111"/>
<line x1="1339.6" y1="716.4" x2="1346.6" y2="716.4" stroke="#ddd" stroke-width="1.8"/>
<circle cx="1014.8" cy="878.8" r="6.6" fill="#fff" stroke="#333" stroke-width="1.3"/>
<line x1="1011.5" y1="878.8" x2="1018.0999999999999" y2="878.8" stroke="#e82020" stroke-width="1.5"/>
<line x1="1014.8" y1="875.5" x2="1014.8" y2="882.0999999999999" stroke="#e82020" stroke-width="1.5"/>
<circle cx="1038.7" cy="878.8" r="6.6" fill="#fff" stroke="#333" stroke-width="1.3"/>
<line x1="1035.4" y1="878.8" x2="1042.0" y2="878.8" stroke="#e82020" stroke-width="1.5"/>
<line x1="1038.7" y1="875.5" x2="1038.7" y2="882.0999999999999" stroke="#e82020" stroke-width="1.5"/>
<circle cx="1062.7" cy="878.8" r="6.6" fill="#fff" stroke="#333" stroke-width="1.3"/>
<line x1="1059.4" y1="878.8" x2="1066.0" y2="878.8" stroke="#e82020" stroke-width="1.5"/>
<line x1="1062.7" y1="875.5" x2="1062.7" y2="882.0999999999999" stroke="#e82020" stroke-width="1.5"/>
<circle cx="1089.6" cy="877.3" r="6.6" fill="#fff" stroke="#333" stroke-width="1.3"/>
<line x1="1086.3" y1="877.3" x2="1092.8999999999999" y2="877.3" stroke="#e82020" stroke-width="1.5"/>
<line x1="1089.6" y1="874.0" x2="1089.6" y2="880.5999999999999" stroke="#e82020" stroke-width="1.5"/>
<circle cx="1110.6" cy="872.2" r="6.6" fill="#fff" stroke="#333" stroke-width="1.3"/>
<line x1="1107.3" y1="872.2" x2="1113.8999999999999" y2="872.2" stroke="#e82020" stroke-width="1.5"/>
<line x1="1110.6" y1="868.9000000000001" x2="1110.6" y2="875.5" stroke="#e82020" stroke-width="1.5"/>
<circle cx="1130" cy="860.9" r="6.6" fill="#fff" stroke="#333" stroke-width="1.3"/>
<line x1="1126.7" y1="860.9" x2="1133.3" y2="860.9" stroke="#e82020" stroke-width="1.5"/>
<line x1="1130" y1="857.6" x2="1130" y2="864.1999999999999" stroke="#e82020" stroke-width="1.5"/>
<circle cx="1162.3" cy="848" r="6.6" fill="#fff" stroke="#333" stroke-width="1.3"/>
<line x1="1159.0" y1="848" x2="1165.6" y2="848" stroke="#e82020" stroke-width="1.5"/>
<line x1="1162.3" y1="844.7" x2="1162.3" y2="851.3" stroke="#e82020" stroke-width="1.5"/>
<circle cx="1177.9" cy="841.5" r="6.6" fill="#fff" stroke="#333" stroke-width="1.3"/>
<line x1="1174.6000000000001" y1="841.5" x2="1181.2" y2="841.5" stroke="#e82020" stroke-width="1.5"/>
<line x1="1177.9" y1="838.2" x2="1177.9" y2="844.8" stroke="#e82020" stroke-width="1.5"/>
<circle cx="1193.5" cy="837" r="6.6" fill="#fff" stroke="#333" stroke-width="1.3"/>
<line x1="1190.2" y1="837" x2="1196.8" y2="837" stroke="#e82020" stroke-width="1.5"/>
<line x1="1193.5" y1="833.7" x2="1193.5" y2="840.3" stroke="#e82020" stroke-width="1.5"/>
<circle cx="1216.8" cy="833.1" r="6.6" fill="#fff" stroke="#333" stroke-width="1.3"/>
<line x1="1213.5" y1="833.1" x2="1220.1" y2="833.1" stroke="#e82020" stroke-width="1.5"/>
<line x1="1216.8" y1="829.8000000000001" x2="1216.8" y2="836.4" stroke="#e82020" stroke-width="1.5"/>
<circle cx="1247.3" cy="828" r="6.6" fill="#fff" stroke="#333" stroke-width="1.3"/>
<line x1="1244.0" y1="828" x2="1250.6" y2="828" stroke="#e82020" stroke-width="1.5"/>
<line x1="1247.3" y1="824.7" x2="1247.3" y2="831.3" stroke="#e82020" stroke-width="1.5"/>
<circle cx="1201.8" cy="833.1" r="6.8" fill="#111"/>
<line x1="1198.3" y1="833.1" x2="1205.3" y2="833.1" stroke="#ddd" stroke-width="1.8"/>
<circle cx="1226.4" cy="829.5" r="6.8" fill="#111"/>
<line x1="1222.9" y1="829.5" x2="1229.9" y2="829.5" stroke="#ddd" stroke-width="1.8"/>
<circle cx="1216.8" cy="833.1" r="6.6" fill="#fff" stroke="#333" stroke-width="1.3"/>
<line x1="1213.5" y1="833.1" x2="1220.1" y2="833.1" stroke="#e82020" stroke-width="1.5"/>
<line x1="1216.8" y1="829.8000000000001" x2="1216.8" y2="836.4" stroke="#e82020" stroke-width="1.5"/>
<text x="1073" y="660" font-size="23" fill="#222"><tspan font-style="italic">ΔE</tspan><tspan font-size="15" dy="6" font-weight="bold">c</tspan><tspan dy="-6"> = 3.55 eV</tspan></text>
<text x="964" y="836" font-size="23" fill="#222"><tspan font-style="italic">ΔE</tspan><tspan font-size="15" dy="6" font-weight="bold">v</tspan><tspan dy="-6"> = 0.9 eV</tspan></text>
<text x="949" y="866" font-size="23" fill="#222"><tspan font-style="italic">E</tspan><tspan font-size="12" dy="6" font-weight="bold">Fp</tspan></text>
<text x="1377" y="726" font-size="23" fill="#222"><tspan font-style="italic">E</tspan><tspan font-size="12" dy="6" font-weight="bold">Fn</tspan></text>
<text x="1151.0" y="802.0" font-size="23" fill="#222" text-anchor="start" font-weight="normal" ><tspan font-style="italic">qV</tspan></text>
<text x="1296.0" y="708.0" font-size="22" fill="#222" text-anchor="start" font-weight="normal" >e<tspan dy="-5" font-weight="bold">−</tspan></text>
<text x="1158.4" y="895.0" font-size="22" fill="#e83020" text-anchor="start" font-weight="normal" >h<tspan dy="-7" font-size="14">+</tspan></text>
<text x="1412.0" y="508.5" font-size="42" fill="#000" text-anchor="start" font-weight="bold" >G</text>
<path d="M1499.4,514.5 L1928,514.5 M1499.4,514.5 L1499.4,874.4 L1928,874.4 L1928,514.5" fill="none" stroke="#555" stroke-width="2" />
<line x1="1493.4" y1="873.4" x2="1499.4" y2="873.4" stroke="#555" stroke-width="1.8" />
<line x1="1495.4" y1="822.1" x2="1499.4" y2="822.1" stroke="#555" stroke-width="1.8" />
<line x1="1493.4" y1="770.8" x2="1499.4" y2="770.8" stroke="#555" stroke-width="1.8" />
<line x1="1495.4" y1="719.5" x2="1499.4" y2="719.5" stroke="#555" stroke-width="1.8" />
<line x1="1493.4" y1="668.2" x2="1499.4" y2="668.2" stroke="#555" stroke-width="1.8" />
<line x1="1495.4" y1="616.9" x2="1499.4" y2="616.9" stroke="#555" stroke-width="1.8" />
<line x1="1493.4" y1="565.6" x2="1499.4" y2="565.6" stroke="#555" stroke-width="1.8" />
<line x1="1924.0" y1="874.2" x2="1928.0" y2="874.2" stroke="#555" stroke-width="1.8" />
<line x1="1922.0" y1="846.6" x2="1928.0" y2="846.6" stroke="#555" stroke-width="1.8" />
<line x1="1924.0" y1="819.0" x2="1928.0" y2="819.0" stroke="#555" stroke-width="1.8" />
<line x1="1922.0" y1="791.3" x2="1928.0" y2="791.3" stroke="#555" stroke-width="1.8" />
<line x1="1924.0" y1="763.6" x2="1928.0" y2="763.6" stroke="#555" stroke-width="1.8" />
<line x1="1922.0" y1="736.0" x2="1928.0" y2="736.0" stroke="#555" stroke-width="1.8" />
<line x1="1924.0" y1="708.4" x2="1928.0" y2="708.4" stroke="#555" stroke-width="1.8" />
<line x1="1922.0" y1="680.7" x2="1928.0" y2="680.7" stroke="#555" stroke-width="1.8" />
<line x1="1924.0" y1="653.0" x2="1928.0" y2="653.0" stroke="#555" stroke-width="1.8" />
<line x1="1922.0" y1="625.4" x2="1928.0" y2="625.4" stroke="#555" stroke-width="1.8" />
<line x1="1924.0" y1="597.8" x2="1928.0" y2="597.8" stroke="#555" stroke-width="1.8" />
<line x1="1922.0" y1="570.1" x2="1928.0" y2="570.1" stroke="#555" stroke-width="1.8" />
<line x1="1924.0" y1="542.5" x2="1928.0" y2="542.5" stroke="#555" stroke-width="1.8" />
<line x1="1922.0" y1="514.8" x2="1928.0" y2="514.8" stroke="#555" stroke-width="1.8" />
<line x1="1499.4" y1="874.4" x2="1499.4" y2="878.4" stroke="#555" stroke-width="1.8" />
<line x1="1538.3" y1="874.4" x2="1538.3" y2="880.4" stroke="#555" stroke-width="1.8" />
<line x1="1577.2" y1="874.4" x2="1577.2" y2="878.4" stroke="#555" stroke-width="1.8" />
<line x1="1616.2" y1="874.4" x2="1616.2" y2="880.4" stroke="#555" stroke-width="1.8" />
<line x1="1655.1" y1="874.4" x2="1655.1" y2="878.4" stroke="#555" stroke-width="1.8" />
<line x1="1694.0" y1="874.4" x2="1694.0" y2="880.4" stroke="#555" stroke-width="1.8" />
<line x1="1732.9" y1="874.4" x2="1732.9" y2="878.4" stroke="#555" stroke-width="1.8" />
<line x1="1771.8" y1="874.4" x2="1771.8" y2="880.4" stroke="#555" stroke-width="1.8" />
<line x1="1810.8" y1="874.4" x2="1810.8" y2="878.4" stroke="#555" stroke-width="1.8" />
<line x1="1849.7" y1="874.4" x2="1849.7" y2="880.4" stroke="#555" stroke-width="1.8" />
<line x1="1888.6" y1="874.4" x2="1888.6" y2="878.4" stroke="#555" stroke-width="1.8" />
<line x1="1927.5" y1="874.4" x2="1927.5" y2="880.4" stroke="#555" stroke-width="1.8" />
<text x="1489.5" y="880.9" font-size="20.8" fill="#e8141c" text-anchor="end" font-weight="normal" >0</text>
<text x="1489.5" y="778.3" font-size="20.8" fill="#e8141c" text-anchor="end" font-weight="normal" >10</text>
<text x="1489.5" y="675.7" font-size="20.8" fill="#e8141c" text-anchor="end" font-weight="normal" >20</text>
<text x="1489.5" y="573.1" font-size="20.8" fill="#e8141c" text-anchor="end" font-weight="normal" >30</text>
<text x="1935.5" y="854.1" font-size="20.8" fill="#1f7f2a" text-anchor="start" font-weight="normal" >0</text>
<text x="1935.5" y="798.8" font-size="20.8" fill="#1f7f2a" text-anchor="start" font-weight="normal" >10</text>
<text x="1935.5" y="743.5" font-size="20.8" fill="#1f7f2a" text-anchor="start" font-weight="normal" >20</text>
<text x="1935.5" y="688.2" font-size="20.8" fill="#1f7f2a" text-anchor="start" font-weight="normal" >30</text>
<text x="1935.5" y="632.9" font-size="20.8" fill="#1f7f2a" text-anchor="start" font-weight="normal" >40</text>
<text x="1935.5" y="577.6" font-size="20.8" fill="#1f7f2a" text-anchor="start" font-weight="normal" >50</text>
<text x="1935.5" y="522.3" font-size="20.8" fill="#1f7f2a" text-anchor="start" font-weight="normal" >60</text>
<text x="1538.3" y="901.5" font-size="20.8" fill="#1a1a1a" text-anchor="middle" font-weight="normal" >50</text>
<text x="1616.2" y="901.5" font-size="20.8" fill="#1a1a1a" text-anchor="middle" font-weight="normal" >60</text>
<text x="1694.0" y="901.5" font-size="20.8" fill="#1a1a1a" text-anchor="middle" font-weight="normal" >70</text>
<text x="1771.8" y="901.5" font-size="20.8" fill="#1a1a1a" text-anchor="middle" font-weight="normal" >80</text>
<text x="1849.7" y="901.5" font-size="20.8" fill="#1a1a1a" text-anchor="middle" font-weight="normal" >90</text>
<text x="1927.5" y="901.5" font-size="20.8" fill="#1a1a1a" text-anchor="middle" font-weight="normal" >100</text>
<text x="1725" y="930" font-size="20.5" fill="#1a1a1a" text-anchor="middle">Current density (A/cm<tspan font-size="13" dy="-7">2</tspan><tspan dy="7">)</tspan></text>
<text x="0" y="0" font-size="22.6" fill="#e8141c" text-anchor="middle" transform="translate(1454,702) rotate(-90)">Output power (μW)</text>
<text x="0" y="0" font-size="24" fill="#1f7f2a" text-anchor="middle" transform="translate(1986,703) rotate(-90)">FWHM (nm)</text>
<line x1="1522.0" y1="839.0" x2="1728.0" y2="816.0" stroke="#444" stroke-width="2.2" stroke-dasharray="9,6"/>
<line x1="1679.8" y1="846.6" x2="1901.0" y2="541.4" stroke="#444" stroke-width="2.2" stroke-dasharray="9,6"/>
<path d="M1554.1,547.5 L1603.5,549.5 L1635.5,580.5 L1668.6,589.7 L1700.6,837.4 L1733.2,840 L1765.2,840 L1830.3,840 L1895.9,840" fill="none" stroke="#5ea06c" stroke-width="2.0" />
<circle cx="1554.1" cy="547.5" r="5.4" fill="url(#ballG)" stroke="#fff" stroke-width="1.6" paint-order="stroke"/>
<circle cx="1603.5" cy="549.5" r="5.4" fill="url(#ballG)" stroke="#fff" stroke-width="1.6" paint-order="stroke"/>
<circle cx="1635.5" cy="580.5" r="5.4" fill="url(#ballG)" stroke="#fff" stroke-width="1.6" paint-order="stroke"/>
<circle cx="1668.6" cy="589.7" r="5.4" fill="url(#ballG)" stroke="#fff" stroke-width="1.6" paint-order="stroke"/>
<circle cx="1700.6" cy="837.4" r="5.4" fill="url(#ballG)" stroke="#fff" stroke-width="1.6" paint-order="stroke"/>
<circle cx="1733.2" cy="840" r="5.4" fill="url(#ballG)" stroke="#fff" stroke-width="1.6" paint-order="stroke"/>
<circle cx="1765.2" cy="840" r="5.4" fill="url(#ballG)" stroke="#fff" stroke-width="1.6" paint-order="stroke"/>
<circle cx="1830.3" cy="840" r="5.4" fill="url(#ballG)" stroke="#fff" stroke-width="1.6" paint-order="stroke"/>
<circle cx="1895.9" cy="840" r="5.4" fill="url(#ballG)" stroke="#fff" stroke-width="1.6" paint-order="stroke"/>
<circle cx="1554.1" cy="834.9" r="5.4" fill="url(#ballR)" stroke="#fff" stroke-width="1.2" paint-order="stroke"/>
<circle cx="1603.5" cy="833.9" r="5.4" fill="url(#ballR)" stroke="#fff" stroke-width="1.2" paint-order="stroke"/>
<circle cx="1635.5" cy="827.2" r="5.4" fill="url(#ballR)" stroke="#fff" stroke-width="1.2" paint-order="stroke"/>
<circle cx="1668.6" cy="823.7" r="5.4" fill="url(#ballR)" stroke="#fff" stroke-width="1.2" paint-order="stroke"/>
<circle cx="1700.6" cy="808.9" r="5.4" fill="url(#ballR)" stroke="#fff" stroke-width="1.2" paint-order="stroke"/>
<circle cx="1733.2" cy="729.6" r="5.4" fill="url(#ballR)" stroke="#fff" stroke-width="1.2" paint-order="stroke"/>
<circle cx="1765.2" cy="703.1" r="5.4" fill="url(#ballR)" stroke="#fff" stroke-width="1.2" paint-order="stroke"/>
<circle cx="1830.3" cy="667" r="5.4" fill="url(#ballR)" stroke="#fff" stroke-width="1.2" paint-order="stroke"/>
<circle cx="1895.9" cy="565.3" r="5.4" fill="url(#ballR)" stroke="#fff" stroke-width="1.2" paint-order="stroke"/></svg>
</body></html>
